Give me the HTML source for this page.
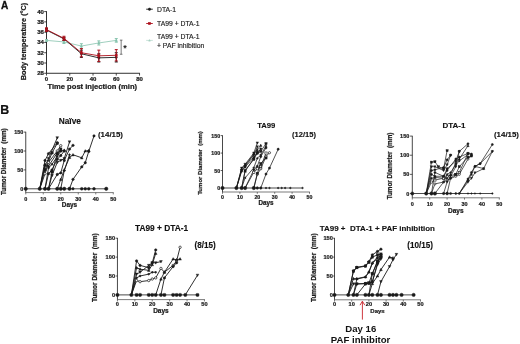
<!DOCTYPE html>
<html><head><meta charset="utf-8"><title>Figure</title>
<style>html,body{margin:0;padding:0;background:#fff;}body{width:520px;height:344px;overflow:hidden;font-family:"Liberation Sans",sans-serif;}svg{display:block;will-change:transform;transform:translateZ(0);}</style>
</head><body>
<svg width="520" height="344" viewBox="0 0 520 344">
<rect width="520" height="344" fill="#fff"/>
<text x="1.0" y="8.75" font-family="Liberation Sans, sans-serif" font-size="10.1" font-weight="bold" fill="#111" stroke="#111" stroke-width="0.3">A</text>
<text x="0.2" y="113.6" font-family="Liberation Sans, sans-serif" font-size="12.4" font-weight="bold" fill="#111" stroke="#111" stroke-width="0.2">B</text>
<path d="M46.5 11.2V73.27999999999999H139.94000000000003" fill="none" stroke="#1a1a1a" stroke-width="0.9"/>
<path d="M44.2 73.28H46.5" stroke="#1a1a1a" stroke-width="0.8"/>
<text x="43.9" y="75.18" font-family="Liberation Sans, sans-serif" font-size="6.0" font-weight="bold" text-anchor="end" fill="#1a1a1a" stroke="#1a1a1a" stroke-width="0.22">28</text>
<path d="M44.2 63.00H46.5" stroke="#1a1a1a" stroke-width="0.8"/>
<text x="43.9" y="64.90" font-family="Liberation Sans, sans-serif" font-size="6.0" font-weight="bold" text-anchor="end" fill="#1a1a1a" stroke="#1a1a1a" stroke-width="0.22">30</text>
<path d="M44.2 52.72H46.5" stroke="#1a1a1a" stroke-width="0.8"/>
<text x="43.9" y="54.62" font-family="Liberation Sans, sans-serif" font-size="6.0" font-weight="bold" text-anchor="end" fill="#1a1a1a" stroke="#1a1a1a" stroke-width="0.22">32</text>
<path d="M44.2 42.44H46.5" stroke="#1a1a1a" stroke-width="0.8"/>
<text x="43.9" y="44.34" font-family="Liberation Sans, sans-serif" font-size="6.0" font-weight="bold" text-anchor="end" fill="#1a1a1a" stroke="#1a1a1a" stroke-width="0.22">34</text>
<path d="M44.2 32.16H46.5" stroke="#1a1a1a" stroke-width="0.8"/>
<text x="43.9" y="34.06" font-family="Liberation Sans, sans-serif" font-size="6.0" font-weight="bold" text-anchor="end" fill="#1a1a1a" stroke="#1a1a1a" stroke-width="0.22">36</text>
<path d="M44.2 21.88H46.5" stroke="#1a1a1a" stroke-width="0.8"/>
<text x="43.9" y="23.78" font-family="Liberation Sans, sans-serif" font-size="6.0" font-weight="bold" text-anchor="end" fill="#1a1a1a" stroke="#1a1a1a" stroke-width="0.22">38</text>
<path d="M44.2 11.60H46.5" stroke="#1a1a1a" stroke-width="0.8"/>
<text x="43.9" y="13.50" font-family="Liberation Sans, sans-serif" font-size="6.0" font-weight="bold" text-anchor="end" fill="#1a1a1a" stroke="#1a1a1a" stroke-width="0.22">40</text>
<path d="M46.50 73.27999999999999V75.57999999999998" stroke="#1a1a1a" stroke-width="0.8"/>
<text x="46.50" y="80.88" font-family="Liberation Sans, sans-serif" font-size="6.0" font-weight="bold" text-anchor="middle" fill="#1a1a1a" stroke="#1a1a1a" stroke-width="0.22">0</text>
<path d="M69.76 73.27999999999999V75.57999999999998" stroke="#1a1a1a" stroke-width="0.8"/>
<text x="69.76" y="80.88" font-family="Liberation Sans, sans-serif" font-size="6.0" font-weight="bold" text-anchor="middle" fill="#1a1a1a" stroke="#1a1a1a" stroke-width="0.22">20</text>
<path d="M93.02 73.27999999999999V75.57999999999998" stroke="#1a1a1a" stroke-width="0.8"/>
<text x="93.02" y="80.88" font-family="Liberation Sans, sans-serif" font-size="6.0" font-weight="bold" text-anchor="middle" fill="#1a1a1a" stroke="#1a1a1a" stroke-width="0.22">40</text>
<path d="M116.28 73.27999999999999V75.57999999999998" stroke="#1a1a1a" stroke-width="0.8"/>
<text x="116.28" y="80.88" font-family="Liberation Sans, sans-serif" font-size="6.0" font-weight="bold" text-anchor="middle" fill="#1a1a1a" stroke="#1a1a1a" stroke-width="0.22">60</text>
<path d="M139.54 73.27999999999999V75.57999999999998" stroke="#1a1a1a" stroke-width="0.8"/>
<text x="139.54" y="80.88" font-family="Liberation Sans, sans-serif" font-size="6.0" font-weight="bold" text-anchor="middle" fill="#1a1a1a" stroke="#1a1a1a" stroke-width="0.22">80</text>
<text transform="translate(26.1,41.5) rotate(-90)" font-family="Liberation Sans, sans-serif" font-size="7.3" font-weight="bold" text-anchor="middle" fill="#1a1a1a" stroke="#1a1a1a" stroke-width="0.22">Body temperature (°C)</text>
<text x="92.3" y="89.2" font-family="Liberation Sans, sans-serif" font-size="7.6" font-weight="bold" text-anchor="middle" fill="#1a1a1a" stroke="#1a1a1a" stroke-width="0.22">Time post injection (min)</text>
<path d="M46.50 40.38L63.95 41.93L81.39 46.04L98.84 42.95L116.28 40.38" fill="none" stroke="#86c3ad" stroke-width="0.8"/>
<path d="M46.50 39.61V41.16M45.00 39.61h3M45.00 41.16h3" stroke="#86c3ad" stroke-width="1.0" fill="none"/>
<path d="M45.23 41.40L47.77 41.40L46.50 39.12Z" fill="#86c3ad" stroke="#86c3ad" stroke-width="0.4"/>
<path d="M63.95 40.38V43.47M62.45 40.38h3M62.45 43.47h3" stroke="#86c3ad" stroke-width="1.0" fill="none"/>
<path d="M62.68 42.94L65.21 42.94L63.95 40.66Z" fill="#86c3ad" stroke="#86c3ad" stroke-width="0.4"/>
<path d="M81.39 43.73V48.35M79.89 43.73h3M79.89 48.35h3" stroke="#86c3ad" stroke-width="1.0" fill="none"/>
<path d="M80.12 47.05L82.66 47.05L81.39 44.77Z" fill="#86c3ad" stroke="#86c3ad" stroke-width="0.4"/>
<path d="M98.84 40.90V45.01M97.34 40.90h3M97.34 45.01h3" stroke="#86c3ad" stroke-width="1.0" fill="none"/>
<path d="M97.57 43.97L100.10 43.97L98.84 41.69Z" fill="#86c3ad" stroke="#86c3ad" stroke-width="0.4"/>
<path d="M116.28 38.59V42.18M114.78 38.59h3M114.78 42.18h3" stroke="#86c3ad" stroke-width="1.0" fill="none"/>
<path d="M115.02 41.40L117.55 41.40L116.28 39.12Z" fill="#86c3ad" stroke="#86c3ad" stroke-width="0.4"/>
<path d="M46.50 30.10L63.95 38.84L81.39 53.75L98.84 57.86L116.28 57.35" fill="none" stroke="#1a1a1a" stroke-width="0.9"/>
<path d="M46.50 28.56V31.65M45.00 28.56h3M45.00 31.65h3" stroke="#1a1a1a" stroke-width="1.0" fill="none"/>
<circle cx="46.50" cy="30.10" r="1.1" fill="#1a1a1a" stroke="#1a1a1a" stroke-width="0.5"/>
<path d="M63.95 37.30V40.38M62.45 37.30h3M62.45 40.38h3" stroke="#1a1a1a" stroke-width="1.0" fill="none"/>
<circle cx="63.95" cy="38.84" r="1.1" fill="#1a1a1a" stroke="#1a1a1a" stroke-width="0.5"/>
<path d="M81.39 50.15V57.35M79.89 50.15h3M79.89 57.35h3" stroke="#1a1a1a" stroke-width="1.0" fill="none"/>
<circle cx="81.39" cy="53.75" r="1.1" fill="#1a1a1a" stroke="#1a1a1a" stroke-width="0.5"/>
<path d="M98.84 53.75V61.97M97.34 53.75h3M97.34 61.97h3" stroke="#1a1a1a" stroke-width="1.0" fill="none"/>
<circle cx="98.84" cy="57.86" r="1.1" fill="#1a1a1a" stroke="#1a1a1a" stroke-width="0.5"/>
<path d="M116.28 52.72V61.97M114.78 52.72h3M114.78 61.97h3" stroke="#1a1a1a" stroke-width="1.0" fill="none"/>
<circle cx="116.28" cy="57.35" r="1.1" fill="#1a1a1a" stroke="#1a1a1a" stroke-width="0.5"/>
<path d="M46.50 29.59L63.95 38.33L81.39 52.72L98.84 55.80L116.28 55.29" fill="none" stroke="#ad111c" stroke-width="0.9"/>
<path d="M46.50 27.79V31.39M45.00 27.79h3M45.00 31.39h3" stroke="#ad111c" stroke-width="1.0" fill="none"/>
<rect x="45.40" y="28.49" width="2.2" height="2.2" fill="#ad111c" stroke="#ad111c" stroke-width="0.4"/>
<path d="M63.95 36.27V40.38M62.45 36.27h3M62.45 40.38h3" stroke="#ad111c" stroke-width="1.0" fill="none"/>
<rect x="62.84" y="37.23" width="2.2" height="2.2" fill="#ad111c" stroke="#ad111c" stroke-width="0.4"/>
<path d="M81.39 48.61V56.83M79.89 48.61h3M79.89 56.83h3" stroke="#ad111c" stroke-width="1.0" fill="none"/>
<rect x="80.29" y="51.62" width="2.2" height="2.2" fill="#ad111c" stroke="#ad111c" stroke-width="0.4"/>
<path d="M98.84 50.15V61.46M97.34 50.15h3M97.34 61.46h3" stroke="#ad111c" stroke-width="1.0" fill="none"/>
<rect x="97.74" y="54.70" width="2.2" height="2.2" fill="#ad111c" stroke="#ad111c" stroke-width="0.4"/>
<path d="M116.28 49.64V60.94M114.78 49.64h3M114.78 60.94h3" stroke="#ad111c" stroke-width="1.0" fill="none"/>
<rect x="115.18" y="54.19" width="2.2" height="2.2" fill="#ad111c" stroke="#ad111c" stroke-width="0.4"/>
<path d="M119.86 40.13h2.6M121.16 40.13V54.26M119.86 54.26h2.6" stroke="#444" stroke-width="0.7" fill="none"/>
<text x="123.16" y="51.04" font-family="Liberation Sans, sans-serif" font-size="9" font-weight="bold" fill="#1a1a1a">*</text>
<path d="M146.2 9.2H152.8" stroke="#1a1a1a" stroke-width="0.9"/>
<circle cx="149.50" cy="9.20" r="1.2" fill="#1a1a1a" stroke="#1a1a1a" stroke-width="0.5"/>
<text x="157" y="11.6" font-family="Liberation Sans, sans-serif" font-size="6.8" fill="#1a1a1a" stroke="#1a1a1a" stroke-width="0.14">DTA-1</text>
<path d="M146.2 23.5H152.8" stroke="#ad111c" stroke-width="0.9"/>
<rect x="148.30" y="22.30" width="2.4" height="2.4" fill="#ad111c" stroke="#ad111c" stroke-width="0.4"/>
<text x="157" y="25.9" font-family="Liberation Sans, sans-serif" font-size="6.8" fill="#1a1a1a" stroke="#1a1a1a" stroke-width="0.14">TA99 + DTA-1</text>
<path d="M146.2 40.4H152.8" stroke="#a3cfbf" stroke-width="0.6"/>
<path d="M148.58 41.14L150.42 41.14L149.50 39.48Z" fill="#a3cfbf" stroke="#a3cfbf" stroke-width="0.4"/>
<text x="157" y="38.8" font-family="Liberation Sans, sans-serif" font-size="6.8" fill="#1a1a1a" stroke="#1a1a1a" stroke-width="0.14">TA99 + DTA-1</text>
<text x="157" y="47.5" font-family="Liberation Sans, sans-serif" font-size="6.8" fill="#1a1a1a" stroke="#1a1a1a" stroke-width="0.14">+ PAF inhibition</text>
<path d="M25.75 131.80V192.6" stroke="#1a1a1a" stroke-width="0.8" fill="none"/>
<path d="M25.35 192.6H113.65" stroke="#444" stroke-width="0.7" fill="none"/>
<path d="M23.85 188.80H25.75" stroke="#1a1a1a" stroke-width="0.7"/>
<text x="23.35" y="190.80" font-family="Liberation Sans, sans-serif" font-size="5.50" font-weight="bold" text-anchor="end" fill="#1a1a1a" stroke="#1a1a1a" stroke-width="0.2">0</text>
<path d="M23.85 169.90H25.75" stroke="#1a1a1a" stroke-width="0.7"/>
<text x="23.35" y="171.90" font-family="Liberation Sans, sans-serif" font-size="5.50" font-weight="bold" text-anchor="end" fill="#1a1a1a" stroke="#1a1a1a" stroke-width="0.2">50</text>
<path d="M23.85 151.00H25.75" stroke="#1a1a1a" stroke-width="0.7"/>
<text x="23.35" y="153.00" font-family="Liberation Sans, sans-serif" font-size="5.50" font-weight="bold" text-anchor="end" fill="#1a1a1a" stroke="#1a1a1a" stroke-width="0.2">100</text>
<path d="M23.85 132.10H25.75" stroke="#1a1a1a" stroke-width="0.7"/>
<text x="23.35" y="134.10" font-family="Liberation Sans, sans-serif" font-size="5.50" font-weight="bold" text-anchor="end" fill="#1a1a1a" stroke="#1a1a1a" stroke-width="0.2">150</text>
<path d="M25.75 192.6v1.8" stroke="#444" stroke-width="0.7"/>
<text x="25.75" y="200.50" font-family="Liberation Sans, sans-serif" font-size="5.50" font-weight="bold" text-anchor="middle" fill="#1a1a1a" stroke="#1a1a1a" stroke-width="0.2">0</text>
<path d="M43.25 192.6v1.8" stroke="#444" stroke-width="0.7"/>
<text x="43.25" y="200.50" font-family="Liberation Sans, sans-serif" font-size="5.50" font-weight="bold" text-anchor="middle" fill="#1a1a1a" stroke="#1a1a1a" stroke-width="0.2">10</text>
<path d="M60.75 192.6v1.8" stroke="#444" stroke-width="0.7"/>
<text x="60.75" y="200.50" font-family="Liberation Sans, sans-serif" font-size="5.50" font-weight="bold" text-anchor="middle" fill="#1a1a1a" stroke="#1a1a1a" stroke-width="0.2">20</text>
<path d="M78.25 192.6v1.8" stroke="#444" stroke-width="0.7"/>
<text x="78.25" y="200.50" font-family="Liberation Sans, sans-serif" font-size="5.50" font-weight="bold" text-anchor="middle" fill="#1a1a1a" stroke="#1a1a1a" stroke-width="0.2">30</text>
<path d="M95.75 192.6v1.8" stroke="#444" stroke-width="0.7"/>
<text x="95.75" y="200.50" font-family="Liberation Sans, sans-serif" font-size="5.50" font-weight="bold" text-anchor="middle" fill="#1a1a1a" stroke="#1a1a1a" stroke-width="0.2">40</text>
<path d="M113.25 192.6v1.8" stroke="#444" stroke-width="0.7"/>
<text x="113.25" y="200.50" font-family="Liberation Sans, sans-serif" font-size="5.50" font-weight="bold" text-anchor="middle" fill="#1a1a1a" stroke="#1a1a1a" stroke-width="0.2">50</text>
<text x="69.50" y="207.20" font-family="Liberation Sans, sans-serif" font-size="6.40" font-weight="bold" text-anchor="middle" fill="#1a1a1a" stroke="#1a1a1a" stroke-width="0.22">Days</text>
<text transform="translate(6.4,161.65) rotate(-90)" font-family="Liberation Sans, sans-serif" font-size="6.30" font-weight="bold" text-anchor="middle" fill="#1a1a1a" stroke="#1a1a1a" stroke-width="0.22" style="white-space:pre">Tumor Diameter  (mm)</text>
<text x="69.85" y="123.8" font-family="Liberation Sans, sans-serif" font-size="8.3" font-weight="bold" text-anchor="middle" fill="#111" stroke="#1a1a1a" stroke-width="0.14" style="white-space:pre">Naïve</text>
<text x="110.5" y="137.3" font-family="Liberation Sans, sans-serif" font-size="7.90" font-weight="bold" text-anchor="middle" fill="#111" stroke="#1a1a1a" stroke-width="0.14">(14/15)</text>
<path d="M25.75 188.80H106.25" stroke="#1a1a1a" stroke-width="0.8"/>
<circle cx="25.75" cy="188.80" r="1.7" fill="#1a1a1a" stroke="#1a1a1a" stroke-width="0.5"/>
<circle cx="39.75" cy="188.80" r="1.7" fill="#1a1a1a" stroke="#1a1a1a" stroke-width="0.5"/>
<circle cx="45.00" cy="188.80" r="1.7" fill="#1a1a1a" stroke="#1a1a1a" stroke-width="0.5"/>
<circle cx="48.50" cy="188.80" r="1.7" fill="#1a1a1a" stroke="#1a1a1a" stroke-width="0.5"/>
<circle cx="57.25" cy="188.80" r="1.7" fill="#1a1a1a" stroke="#1a1a1a" stroke-width="0.5"/>
<circle cx="60.75" cy="188.80" r="1.7" fill="#1a1a1a" stroke="#1a1a1a" stroke-width="0.5"/>
<circle cx="64.25" cy="188.80" r="1.7" fill="#1a1a1a" stroke="#1a1a1a" stroke-width="0.5"/>
<circle cx="69.50" cy="188.80" r="1.7" fill="#1a1a1a" stroke="#1a1a1a" stroke-width="0.5"/>
<circle cx="73.00" cy="188.80" r="1.2" fill="#1a1a1a" stroke="#1a1a1a" stroke-width="0.5"/>
<circle cx="81.75" cy="188.80" r="1.4" fill="#1a1a1a" stroke="#1a1a1a" stroke-width="0.5"/>
<circle cx="85.25" cy="188.80" r="1.4" fill="#1a1a1a" stroke="#1a1a1a" stroke-width="0.5"/>
<circle cx="88.75" cy="188.80" r="1.4" fill="#1a1a1a" stroke="#1a1a1a" stroke-width="0.5"/>
<circle cx="94.00" cy="188.80" r="1.4" fill="#1a1a1a" stroke="#1a1a1a" stroke-width="0.5"/>
<circle cx="106.25" cy="188.80" r="1.7" fill="#1a1a1a" stroke="#1a1a1a" stroke-width="0.5"/>
<path d="M39.75 188.80L45.00 160.45L48.50 153.65L57.25 142.68" fill="none" stroke="#1a1a1a" stroke-width="0.9" stroke-linejoin="round"/>
<circle cx="45.00" cy="160.45" r="1.2" fill="#1a1a1a" stroke="#1a1a1a" stroke-width="0.5"/>
<circle cx="48.50" cy="153.65" r="1.2" fill="#1a1a1a" stroke="#1a1a1a" stroke-width="0.5"/>
<circle cx="57.25" cy="142.68" r="1.2" fill="#1a1a1a" stroke="#1a1a1a" stroke-width="0.5"/>
<path d="M39.75 188.80L45.00 166.12L48.50 158.56L57.25 137.77" fill="none" stroke="#1a1a1a" stroke-width="0.9" stroke-linejoin="round"/>
<path d="M43.62 165.02L46.38 165.02L45.00 167.50Z" fill="#1a1a1a" stroke="#1a1a1a" stroke-width="0.4"/>
<path d="M47.12 157.46L49.88 157.46L48.50 159.94Z" fill="#1a1a1a" stroke="#1a1a1a" stroke-width="0.4"/>
<path d="M55.87 136.67L58.63 136.67L57.25 139.15Z" fill="#1a1a1a" stroke="#1a1a1a" stroke-width="0.4"/>
<path d="M39.75 188.80L45.00 169.90L48.50 161.58L52.00 152.89L57.25 143.44" fill="none" stroke="#1a1a1a" stroke-width="0.9" stroke-linejoin="round"/>
<rect x="43.80" y="168.70" width="2.4" height="2.4" fill="#1a1a1a" stroke="#1a1a1a" stroke-width="0.4"/>
<rect x="47.30" y="160.38" width="2.4" height="2.4" fill="#1a1a1a" stroke="#1a1a1a" stroke-width="0.4"/>
<rect x="50.80" y="151.69" width="2.4" height="2.4" fill="#1a1a1a" stroke="#1a1a1a" stroke-width="0.4"/>
<rect x="56.05" y="142.24" width="2.4" height="2.4" fill="#1a1a1a" stroke="#1a1a1a" stroke-width="0.4"/>
<path d="M39.75 188.80L45.00 173.68L48.50 162.34L57.25 151.00L60.75 145.71" fill="none" stroke="#1a1a1a" stroke-width="0.9" stroke-linejoin="round"/>
<circle cx="45.00" cy="173.68" r="1.2" fill="#fff" stroke="#1a1a1a" stroke-width="0.7"/>
<circle cx="48.50" cy="162.34" r="1.2" fill="#fff" stroke="#1a1a1a" stroke-width="0.7"/>
<circle cx="57.25" cy="151.00" r="1.2" fill="#fff" stroke="#1a1a1a" stroke-width="0.7"/>
<circle cx="60.75" cy="145.71" r="1.2" fill="#fff" stroke="#1a1a1a" stroke-width="0.7"/>
<path d="M39.75 188.80L45.00 164.23L48.50 166.12L57.25 152.89L60.75 151.00L64.25 150.24" fill="none" stroke="#1a1a1a" stroke-width="0.9" stroke-linejoin="round"/>
<path d="M43.62 165.33L46.38 165.33L45.00 162.85Z" fill="#1a1a1a" stroke="#1a1a1a" stroke-width="0.4"/>
<path d="M47.12 167.22L49.88 167.22L48.50 164.74Z" fill="#1a1a1a" stroke="#1a1a1a" stroke-width="0.4"/>
<path d="M55.87 153.99L58.63 153.99L57.25 151.51Z" fill="#1a1a1a" stroke="#1a1a1a" stroke-width="0.4"/>
<path d="M59.37 152.10L62.13 152.10L60.75 149.62Z" fill="#1a1a1a" stroke="#1a1a1a" stroke-width="0.4"/>
<path d="M62.87 151.35L65.63 151.35L64.25 148.86Z" fill="#1a1a1a" stroke="#1a1a1a" stroke-width="0.4"/>
<path d="M45.00 188.80L48.50 168.01L52.00 164.23L57.25 156.67L60.75 151.00" fill="none" stroke="#1a1a1a" stroke-width="0.9" stroke-linejoin="round"/>
<path d="M48.50 166.81L49.70 168.01L48.50 169.21L47.30 168.01Z" fill="#1a1a1a" stroke="#1a1a1a" stroke-width="0.4"/>
<path d="M52.00 163.03L53.20 164.23L52.00 165.43L50.80 164.23Z" fill="#1a1a1a" stroke="#1a1a1a" stroke-width="0.4"/>
<path d="M57.25 155.47L58.45 156.67L57.25 157.87L56.05 156.67Z" fill="#1a1a1a" stroke="#1a1a1a" stroke-width="0.4"/>
<path d="M60.75 149.80L61.95 151.00L60.75 152.20L59.55 151.00Z" fill="#1a1a1a" stroke="#1a1a1a" stroke-width="0.4"/>
<path d="M45.00 188.80L48.50 173.68L52.00 169.90L57.25 159.32L60.75 155.54L64.25 151.00" fill="none" stroke="#1a1a1a" stroke-width="0.9" stroke-linejoin="round"/>
<circle cx="48.50" cy="173.68" r="1.2" fill="#1a1a1a" stroke="#1a1a1a" stroke-width="0.5"/>
<circle cx="52.00" cy="169.90" r="1.2" fill="#1a1a1a" stroke="#1a1a1a" stroke-width="0.5"/>
<circle cx="57.25" cy="159.32" r="1.2" fill="#1a1a1a" stroke="#1a1a1a" stroke-width="0.5"/>
<circle cx="60.75" cy="155.54" r="1.2" fill="#1a1a1a" stroke="#1a1a1a" stroke-width="0.5"/>
<circle cx="64.25" cy="151.00" r="1.2" fill="#1a1a1a" stroke="#1a1a1a" stroke-width="0.5"/>
<path d="M48.50 188.80L52.00 175.57L57.25 162.34L60.75 160.45L64.25 158.56L69.50 141.93" fill="none" stroke="#1a1a1a" stroke-width="0.9" stroke-linejoin="round"/>
<path d="M50.62 174.47L53.38 174.47L52.00 176.95Z" fill="#1a1a1a" stroke="#1a1a1a" stroke-width="0.4"/>
<path d="M55.87 161.24L58.63 161.24L57.25 163.72Z" fill="#1a1a1a" stroke="#1a1a1a" stroke-width="0.4"/>
<path d="M59.37 159.35L62.13 159.35L60.75 161.83Z" fill="#1a1a1a" stroke="#1a1a1a" stroke-width="0.4"/>
<path d="M62.87 157.46L65.63 157.46L64.25 159.94Z" fill="#1a1a1a" stroke="#1a1a1a" stroke-width="0.4"/>
<path d="M68.12 140.82L70.88 140.82L69.50 143.31Z" fill="#1a1a1a" stroke="#1a1a1a" stroke-width="0.4"/>
<path d="M48.50 188.80L52.00 171.79L57.25 154.02L60.75 149.11" fill="none" stroke="#1a1a1a" stroke-width="0.9" stroke-linejoin="round"/>
<rect x="50.80" y="170.59" width="2.4" height="2.4" fill="#1a1a1a" stroke="#1a1a1a" stroke-width="0.4"/>
<rect x="56.05" y="152.82" width="2.4" height="2.4" fill="#1a1a1a" stroke="#1a1a1a" stroke-width="0.4"/>
<rect x="59.55" y="147.91" width="2.4" height="2.4" fill="#1a1a1a" stroke="#1a1a1a" stroke-width="0.4"/>
<path d="M48.50 188.80L57.25 174.44L60.75 172.92L64.25 160.45L69.50 149.11L73.00 145.33" fill="none" stroke="#1a1a1a" stroke-width="0.9" stroke-linejoin="round"/>
<circle cx="57.25" cy="174.44" r="1.2" fill="#1a1a1a" stroke="#1a1a1a" stroke-width="0.5"/>
<circle cx="60.75" cy="172.92" r="1.2" fill="#1a1a1a" stroke="#1a1a1a" stroke-width="0.5"/>
<circle cx="64.25" cy="160.45" r="1.2" fill="#1a1a1a" stroke="#1a1a1a" stroke-width="0.5"/>
<circle cx="69.50" cy="149.11" r="1.2" fill="#1a1a1a" stroke="#1a1a1a" stroke-width="0.5"/>
<circle cx="73.00" cy="145.33" r="1.2" fill="#1a1a1a" stroke="#1a1a1a" stroke-width="0.5"/>
<path d="M57.25 188.80L60.75 179.35L64.25 169.90L69.50 157.43L73.00 154.78L81.75 157.80L85.25 151.00L88.75 150.62" fill="none" stroke="#1a1a1a" stroke-width="0.9" stroke-linejoin="round"/>
<path d="M59.37 180.45L62.13 180.45L60.75 177.97Z" fill="#1a1a1a" stroke="#1a1a1a" stroke-width="0.4"/>
<path d="M62.87 171.00L65.63 171.00L64.25 168.52Z" fill="#1a1a1a" stroke="#1a1a1a" stroke-width="0.4"/>
<path d="M68.12 158.53L70.88 158.53L69.50 156.05Z" fill="#1a1a1a" stroke="#1a1a1a" stroke-width="0.4"/>
<path d="M71.62 155.88L74.38 155.88L73.00 153.40Z" fill="#1a1a1a" stroke="#1a1a1a" stroke-width="0.4"/>
<path d="M80.37 158.91L83.13 158.91L81.75 156.42Z" fill="#1a1a1a" stroke="#1a1a1a" stroke-width="0.4"/>
<path d="M83.87 152.10L86.63 152.10L85.25 149.62Z" fill="#1a1a1a" stroke="#1a1a1a" stroke-width="0.4"/>
<path d="M87.37 151.73L90.13 151.73L88.75 149.24Z" fill="#1a1a1a" stroke="#1a1a1a" stroke-width="0.4"/>
<path d="M60.75 188.80L64.25 170.66L69.50 154.78" fill="none" stroke="#1a1a1a" stroke-width="0.9" stroke-linejoin="round"/>
<path d="M64.25 169.46L65.45 170.66L64.25 171.86L63.05 170.66Z" fill="#1a1a1a" stroke="#1a1a1a" stroke-width="0.4"/>
<path d="M69.50 153.58L70.70 154.78L69.50 155.98L68.30 154.78Z" fill="#1a1a1a" stroke="#1a1a1a" stroke-width="0.4"/>
<path d="M69.50 188.80L73.00 179.35L81.75 166.88L85.25 162.72L88.75 151.38L94.00 135.88" fill="none" stroke="#1a1a1a" stroke-width="0.9" stroke-linejoin="round"/>
<circle cx="73.00" cy="179.35" r="1.2" fill="#1a1a1a" stroke="#1a1a1a" stroke-width="0.5"/>
<circle cx="81.75" cy="166.88" r="1.2" fill="#1a1a1a" stroke="#1a1a1a" stroke-width="0.5"/>
<circle cx="85.25" cy="162.72" r="1.2" fill="#1a1a1a" stroke="#1a1a1a" stroke-width="0.5"/>
<circle cx="88.75" cy="151.38" r="1.2" fill="#1a1a1a" stroke="#1a1a1a" stroke-width="0.5"/>
<circle cx="94.00" cy="135.88" r="1.2" fill="#1a1a1a" stroke="#1a1a1a" stroke-width="0.5"/>
<path d="M222.5 135.30V192.0" stroke="#1a1a1a" stroke-width="0.8" fill="none"/>
<path d="M222.1 192.0H309.90" stroke="#444" stroke-width="0.7" fill="none"/>
<path d="M220.6 188.00H222.5" stroke="#1a1a1a" stroke-width="0.7"/>
<text x="220.1" y="190.00" font-family="Liberation Sans, sans-serif" font-size="5.25" font-weight="bold" text-anchor="end" fill="#1a1a1a" stroke="#1a1a1a" stroke-width="0.2">0</text>
<path d="M220.6 170.53H222.5" stroke="#1a1a1a" stroke-width="0.7"/>
<text x="220.1" y="172.53" font-family="Liberation Sans, sans-serif" font-size="5.25" font-weight="bold" text-anchor="end" fill="#1a1a1a" stroke="#1a1a1a" stroke-width="0.2">50</text>
<path d="M220.6 153.07H222.5" stroke="#1a1a1a" stroke-width="0.7"/>
<text x="220.1" y="155.07" font-family="Liberation Sans, sans-serif" font-size="5.25" font-weight="bold" text-anchor="end" fill="#1a1a1a" stroke="#1a1a1a" stroke-width="0.2">100</text>
<path d="M220.6 135.60H222.5" stroke="#1a1a1a" stroke-width="0.7"/>
<text x="220.1" y="137.60" font-family="Liberation Sans, sans-serif" font-size="5.25" font-weight="bold" text-anchor="end" fill="#1a1a1a" stroke="#1a1a1a" stroke-width="0.2">150</text>
<path d="M222.50 192.0v1.8" stroke="#444" stroke-width="0.7"/>
<text x="222.50" y="198.80" font-family="Liberation Sans, sans-serif" font-size="5.25" font-weight="bold" text-anchor="middle" fill="#1a1a1a" stroke="#1a1a1a" stroke-width="0.2">0</text>
<path d="M239.90 192.0v1.8" stroke="#444" stroke-width="0.7"/>
<text x="239.90" y="198.80" font-family="Liberation Sans, sans-serif" font-size="5.25" font-weight="bold" text-anchor="middle" fill="#1a1a1a" stroke="#1a1a1a" stroke-width="0.2">10</text>
<path d="M257.30 192.0v1.8" stroke="#444" stroke-width="0.7"/>
<text x="257.30" y="198.80" font-family="Liberation Sans, sans-serif" font-size="5.25" font-weight="bold" text-anchor="middle" fill="#1a1a1a" stroke="#1a1a1a" stroke-width="0.2">20</text>
<path d="M274.70 192.0v1.8" stroke="#444" stroke-width="0.7"/>
<text x="274.70" y="198.80" font-family="Liberation Sans, sans-serif" font-size="5.25" font-weight="bold" text-anchor="middle" fill="#1a1a1a" stroke="#1a1a1a" stroke-width="0.2">30</text>
<path d="M292.10 192.0v1.8" stroke="#444" stroke-width="0.7"/>
<text x="292.10" y="198.80" font-family="Liberation Sans, sans-serif" font-size="5.25" font-weight="bold" text-anchor="middle" fill="#1a1a1a" stroke="#1a1a1a" stroke-width="0.2">40</text>
<path d="M309.50 192.0v1.8" stroke="#444" stroke-width="0.7"/>
<text x="309.50" y="198.80" font-family="Liberation Sans, sans-serif" font-size="5.25" font-weight="bold" text-anchor="middle" fill="#1a1a1a" stroke="#1a1a1a" stroke-width="0.2">50</text>
<text x="266.00" y="205.10" font-family="Liberation Sans, sans-serif" font-size="6.30" font-weight="bold" text-anchor="middle" fill="#1a1a1a" stroke="#1a1a1a" stroke-width="0.22">Days</text>
<text transform="translate(202.2,163.00) rotate(-90)" font-family="Liberation Sans, sans-serif" font-size="6.02" font-weight="bold" text-anchor="middle" fill="#1a1a1a" stroke="#1a1a1a" stroke-width="0.22" style="white-space:pre">Tumor Diameter  (mm)</text>
<text x="266.25" y="128.0" font-family="Liberation Sans, sans-serif" font-size="7.7" font-weight="bold" text-anchor="middle" fill="#111" stroke="#1a1a1a" stroke-width="0.14" style="white-space:pre">TA99</text>
<text x="304" y="137.0" font-family="Liberation Sans, sans-serif" font-size="7.54" font-weight="bold" text-anchor="middle" fill="#111" stroke="#1a1a1a" stroke-width="0.14">(12/15)</text>
<path d="M222.50 188.00H302.54" stroke="#1a1a1a" stroke-width="0.8"/>
<circle cx="222.50" cy="188.00" r="1.7" fill="#1a1a1a" stroke="#1a1a1a" stroke-width="0.5"/>
<circle cx="236.42" cy="188.00" r="1.7" fill="#1a1a1a" stroke="#1a1a1a" stroke-width="0.5"/>
<circle cx="241.64" cy="188.00" r="1.7" fill="#1a1a1a" stroke="#1a1a1a" stroke-width="0.5"/>
<circle cx="245.12" cy="188.00" r="1.7" fill="#1a1a1a" stroke="#1a1a1a" stroke-width="0.5"/>
<circle cx="253.82" cy="188.00" r="1.7" fill="#1a1a1a" stroke="#1a1a1a" stroke-width="0.5"/>
<circle cx="257.30" cy="188.00" r="1.3" fill="#1a1a1a" stroke="#1a1a1a" stroke-width="0.5"/>
<circle cx="260.78" cy="188.00" r="1.2" fill="#1a1a1a" stroke="#1a1a1a" stroke-width="0.5"/>
<circle cx="266.00" cy="188.00" r="0.8" fill="#1a1a1a" stroke="#1a1a1a" stroke-width="0.5"/>
<circle cx="269.48" cy="188.00" r="0.8" fill="#1a1a1a" stroke="#1a1a1a" stroke-width="0.5"/>
<circle cx="278.18" cy="188.00" r="0.8" fill="#1a1a1a" stroke="#1a1a1a" stroke-width="0.5"/>
<circle cx="281.66" cy="188.00" r="0.8" fill="#1a1a1a" stroke="#1a1a1a" stroke-width="0.5"/>
<circle cx="285.14" cy="188.00" r="0.8" fill="#1a1a1a" stroke="#1a1a1a" stroke-width="0.5"/>
<circle cx="290.36" cy="188.00" r="0.8" fill="#1a1a1a" stroke="#1a1a1a" stroke-width="0.5"/>
<circle cx="302.54" cy="188.00" r="0.8" fill="#1a1a1a" stroke="#1a1a1a" stroke-width="0.5"/>
<path d="M236.42 188.00L241.64 168.09L245.12 164.25L253.82 153.07L257.30 142.94" fill="none" stroke="#1a1a1a" stroke-width="0.75" stroke-linejoin="round"/>
<path d="M240.38 167.08L242.90 167.08L241.64 169.35Z" fill="#1a1a1a" stroke="#1a1a1a" stroke-width="0.4"/>
<path d="M243.86 163.23L246.38 163.23L245.12 165.51Z" fill="#1a1a1a" stroke="#1a1a1a" stroke-width="0.4"/>
<path d="M252.56 152.05L255.08 152.05L253.82 154.33Z" fill="#1a1a1a" stroke="#1a1a1a" stroke-width="0.4"/>
<path d="M256.04 141.92L258.56 141.92L257.30 144.20Z" fill="#1a1a1a" stroke="#1a1a1a" stroke-width="0.4"/>
<path d="M236.42 188.00L241.64 168.79L245.12 165.29L253.82 154.11L257.30 149.57L260.78 145.38" fill="none" stroke="#1a1a1a" stroke-width="0.75" stroke-linejoin="round"/>
<path d="M240.38 169.80L242.90 169.80L241.64 167.52Z" fill="#1a1a1a" stroke="#1a1a1a" stroke-width="0.4"/>
<path d="M243.86 166.31L246.38 166.31L245.12 164.03Z" fill="#1a1a1a" stroke="#1a1a1a" stroke-width="0.4"/>
<path d="M252.56 155.13L255.08 155.13L253.82 152.85Z" fill="#1a1a1a" stroke="#1a1a1a" stroke-width="0.4"/>
<path d="M256.04 150.59L258.56 150.59L257.30 148.31Z" fill="#1a1a1a" stroke="#1a1a1a" stroke-width="0.4"/>
<path d="M259.51 146.39L262.04 146.39L260.78 144.12Z" fill="#1a1a1a" stroke="#1a1a1a" stroke-width="0.4"/>
<path d="M236.42 188.00L241.64 171.23L245.12 167.04L253.82 157.26L257.30 153.07L260.78 148.87" fill="none" stroke="#1a1a1a" stroke-width="0.75" stroke-linejoin="round"/>
<circle cx="241.64" cy="171.23" r="1.1" fill="#1a1a1a" stroke="#1a1a1a" stroke-width="0.5"/>
<circle cx="245.12" cy="167.04" r="1.1" fill="#1a1a1a" stroke="#1a1a1a" stroke-width="0.5"/>
<circle cx="253.82" cy="157.26" r="1.1" fill="#1a1a1a" stroke="#1a1a1a" stroke-width="0.5"/>
<circle cx="257.30" cy="153.07" r="1.1" fill="#1a1a1a" stroke="#1a1a1a" stroke-width="0.5"/>
<circle cx="260.78" cy="148.87" r="1.1" fill="#1a1a1a" stroke="#1a1a1a" stroke-width="0.5"/>
<path d="M236.42 188.00L241.64 170.53L245.12 166.34L253.82 154.81L257.30 146.78" fill="none" stroke="#1a1a1a" stroke-width="0.75" stroke-linejoin="round"/>
<path d="M240.38 169.52L242.90 169.52L241.64 171.80Z" fill="#1a1a1a" stroke="#1a1a1a" stroke-width="0.4"/>
<path d="M243.86 165.33L246.38 165.33L245.12 167.61Z" fill="#1a1a1a" stroke="#1a1a1a" stroke-width="0.4"/>
<path d="M252.56 153.80L255.08 153.80L253.82 156.08Z" fill="#1a1a1a" stroke="#1a1a1a" stroke-width="0.4"/>
<path d="M256.04 145.77L258.56 145.77L257.30 148.04Z" fill="#1a1a1a" stroke="#1a1a1a" stroke-width="0.4"/>
<path d="M241.64 188.00L245.12 170.53L253.82 159.35L257.30 153.07L260.78 151.32L266.00 143.63" fill="none" stroke="#1a1a1a" stroke-width="0.75" stroke-linejoin="round"/>
<rect x="244.02" y="169.43" width="2.2" height="2.2" fill="#1a1a1a" stroke="#1a1a1a" stroke-width="0.4"/>
<rect x="252.72" y="158.25" width="2.2" height="2.2" fill="#1a1a1a" stroke="#1a1a1a" stroke-width="0.4"/>
<rect x="256.20" y="151.97" width="2.2" height="2.2" fill="#1a1a1a" stroke="#1a1a1a" stroke-width="0.4"/>
<rect x="259.68" y="150.22" width="2.2" height="2.2" fill="#1a1a1a" stroke="#1a1a1a" stroke-width="0.4"/>
<rect x="264.90" y="142.53" width="2.2" height="2.2" fill="#1a1a1a" stroke="#1a1a1a" stroke-width="0.4"/>
<path d="M241.64 188.00L245.12 177.87L253.82 167.74L257.30 158.31L260.78 154.81L266.00 146.08" fill="none" stroke="#1a1a1a" stroke-width="0.75" stroke-linejoin="round"/>
<path d="M245.12 176.77L246.22 177.87L245.12 178.97L244.02 177.87Z" fill="#1a1a1a" stroke="#1a1a1a" stroke-width="0.4"/>
<path d="M253.82 166.64L254.92 167.74L253.82 168.84L252.72 167.74Z" fill="#1a1a1a" stroke="#1a1a1a" stroke-width="0.4"/>
<path d="M257.30 157.21L258.40 158.31L257.30 159.41L256.20 158.31Z" fill="#1a1a1a" stroke="#1a1a1a" stroke-width="0.4"/>
<path d="M260.78 153.71L261.88 154.81L260.78 155.91L259.68 154.81Z" fill="#1a1a1a" stroke="#1a1a1a" stroke-width="0.4"/>
<path d="M266.00 144.98L267.10 146.08L266.00 147.18L264.90 146.08Z" fill="#1a1a1a" stroke="#1a1a1a" stroke-width="0.4"/>
<path d="M245.12 188.00L253.82 169.83L257.30 166.34L260.78 156.56L266.00 147.83" fill="none" stroke="#1a1a1a" stroke-width="0.75" stroke-linejoin="round"/>
<circle cx="253.82" cy="169.83" r="1.1" fill="#1a1a1a" stroke="#1a1a1a" stroke-width="0.5"/>
<circle cx="257.30" cy="166.34" r="1.1" fill="#1a1a1a" stroke="#1a1a1a" stroke-width="0.5"/>
<circle cx="260.78" cy="156.56" r="1.1" fill="#1a1a1a" stroke="#1a1a1a" stroke-width="0.5"/>
<circle cx="266.00" cy="147.83" r="1.1" fill="#1a1a1a" stroke="#1a1a1a" stroke-width="0.5"/>
<path d="M245.12 188.00L253.82 172.28L257.30 168.79L260.78 166.69L266.00 153.07" fill="none" stroke="#1a1a1a" stroke-width="0.75" stroke-linejoin="round"/>
<rect x="252.72" y="171.18" width="2.2" height="2.2" fill="#fff" stroke="#1a1a1a" stroke-width="0.6"/>
<rect x="256.20" y="167.69" width="2.2" height="2.2" fill="#fff" stroke="#1a1a1a" stroke-width="0.6"/>
<rect x="259.68" y="165.59" width="2.2" height="2.2" fill="#fff" stroke="#1a1a1a" stroke-width="0.6"/>
<rect x="264.90" y="151.97" width="2.2" height="2.2" fill="#fff" stroke="#1a1a1a" stroke-width="0.6"/>
<path d="M253.82 188.00L257.30 174.38L260.78 168.79L266.00 156.56L269.48 152.72" fill="none" stroke="#1a1a1a" stroke-width="0.75" stroke-linejoin="round"/>
<circle cx="257.30" cy="174.38" r="1.1" fill="#fff" stroke="#1a1a1a" stroke-width="0.7"/>
<circle cx="260.78" cy="168.79" r="1.1" fill="#fff" stroke="#1a1a1a" stroke-width="0.7"/>
<circle cx="266.00" cy="156.56" r="1.1" fill="#fff" stroke="#1a1a1a" stroke-width="0.7"/>
<circle cx="269.48" cy="152.72" r="1.1" fill="#fff" stroke="#1a1a1a" stroke-width="0.7"/>
<path d="M253.82 188.00L257.30 173.33L260.78 163.55L266.00 157.96" fill="none" stroke="#1a1a1a" stroke-width="0.75" stroke-linejoin="round"/>
<rect x="256.20" y="172.23" width="2.2" height="2.2" fill="#1a1a1a" stroke="#1a1a1a" stroke-width="0.4"/>
<rect x="259.68" y="162.45" width="2.2" height="2.2" fill="#1a1a1a" stroke="#1a1a1a" stroke-width="0.4"/>
<rect x="264.90" y="156.86" width="2.2" height="2.2" fill="#1a1a1a" stroke="#1a1a1a" stroke-width="0.4"/>
<path d="M241.64 188.00L245.12 171.23L253.82 158.31L257.30 151.32" fill="none" stroke="#1a1a1a" stroke-width="0.75" stroke-linejoin="round"/>
<path d="M243.86 172.24L246.38 172.24L245.12 169.97Z" fill="#1a1a1a" stroke="#1a1a1a" stroke-width="0.4"/>
<path d="M252.56 159.32L255.08 159.32L253.82 157.04Z" fill="#1a1a1a" stroke="#1a1a1a" stroke-width="0.4"/>
<path d="M256.04 152.33L258.56 152.33L257.30 150.06Z" fill="#1a1a1a" stroke="#1a1a1a" stroke-width="0.4"/>
<path d="M260.78 188.00L266.00 174.03L269.48 168.09L278.18 149.22" fill="none" stroke="#1a1a1a" stroke-width="0.75" stroke-linejoin="round"/>
<circle cx="266.00" cy="174.03" r="1.1" fill="#1a1a1a" stroke="#1a1a1a" stroke-width="0.5"/>
<circle cx="269.48" cy="168.09" r="1.1" fill="#1a1a1a" stroke="#1a1a1a" stroke-width="0.5"/>
<circle cx="278.18" cy="149.22" r="1.1" fill="#1a1a1a" stroke="#1a1a1a" stroke-width="0.5"/>
<path d="M412.3 135.80V197.8" stroke="#1a1a1a" stroke-width="0.8" fill="none"/>
<path d="M411.90000000000003 197.8H499.70" stroke="#444" stroke-width="0.7" fill="none"/>
<path d="M409.90000000000003 193.50H412.3" stroke="#1a1a1a" stroke-width="0.7"/>
<text x="409.3" y="195.50" font-family="Liberation Sans, sans-serif" font-size="5.50" font-weight="bold" text-anchor="end" fill="#1a1a1a" stroke="#1a1a1a" stroke-width="0.2">0</text>
<path d="M409.90000000000003 174.37H412.3" stroke="#1a1a1a" stroke-width="0.7"/>
<text x="409.3" y="176.37" font-family="Liberation Sans, sans-serif" font-size="5.50" font-weight="bold" text-anchor="end" fill="#1a1a1a" stroke="#1a1a1a" stroke-width="0.2">50</text>
<path d="M409.90000000000003 155.23H412.3" stroke="#1a1a1a" stroke-width="0.7"/>
<text x="409.3" y="157.23" font-family="Liberation Sans, sans-serif" font-size="5.50" font-weight="bold" text-anchor="end" fill="#1a1a1a" stroke="#1a1a1a" stroke-width="0.2">100</text>
<path d="M409.90000000000003 136.10H412.3" stroke="#1a1a1a" stroke-width="0.7"/>
<text x="409.3" y="138.10" font-family="Liberation Sans, sans-serif" font-size="5.50" font-weight="bold" text-anchor="end" fill="#1a1a1a" stroke="#1a1a1a" stroke-width="0.2">150</text>
<path d="M412.30 197.8v1.8" stroke="#444" stroke-width="0.7"/>
<text x="412.30" y="205.50" font-family="Liberation Sans, sans-serif" font-size="5.50" font-weight="bold" text-anchor="middle" fill="#1a1a1a" stroke="#1a1a1a" stroke-width="0.2">0</text>
<path d="M429.70 197.8v1.8" stroke="#444" stroke-width="0.7"/>
<text x="429.70" y="205.50" font-family="Liberation Sans, sans-serif" font-size="5.50" font-weight="bold" text-anchor="middle" fill="#1a1a1a" stroke="#1a1a1a" stroke-width="0.2">10</text>
<path d="M447.10 197.8v1.8" stroke="#444" stroke-width="0.7"/>
<text x="447.10" y="205.50" font-family="Liberation Sans, sans-serif" font-size="5.50" font-weight="bold" text-anchor="middle" fill="#1a1a1a" stroke="#1a1a1a" stroke-width="0.2">20</text>
<path d="M464.50 197.8v1.8" stroke="#444" stroke-width="0.7"/>
<text x="464.50" y="205.50" font-family="Liberation Sans, sans-serif" font-size="5.50" font-weight="bold" text-anchor="middle" fill="#1a1a1a" stroke="#1a1a1a" stroke-width="0.2">30</text>
<path d="M481.90 197.8v1.8" stroke="#444" stroke-width="0.7"/>
<text x="481.90" y="205.50" font-family="Liberation Sans, sans-serif" font-size="5.50" font-weight="bold" text-anchor="middle" fill="#1a1a1a" stroke="#1a1a1a" stroke-width="0.2">40</text>
<path d="M499.30 197.8v1.8" stroke="#444" stroke-width="0.7"/>
<text x="499.30" y="205.50" font-family="Liberation Sans, sans-serif" font-size="5.50" font-weight="bold" text-anchor="middle" fill="#1a1a1a" stroke="#1a1a1a" stroke-width="0.2">50</text>
<text x="455.80" y="213.00" font-family="Liberation Sans, sans-serif" font-size="6.50" font-weight="bold" text-anchor="middle" fill="#1a1a1a" stroke="#1a1a1a" stroke-width="0.22">Days</text>
<text transform="translate(391.5,166.00) rotate(-90)" font-family="Liberation Sans, sans-serif" font-size="6.30" font-weight="bold" text-anchor="middle" fill="#1a1a1a" stroke="#1a1a1a" stroke-width="0.22" style="white-space:pre">Tumor Diameter  (mm)</text>
<text x="454" y="127.6" font-family="Liberation Sans, sans-serif" font-size="8.0" font-weight="bold" text-anchor="middle" fill="#111" stroke="#1a1a1a" stroke-width="0.14" style="white-space:pre">DTA-1</text>
<text x="506.5" y="137.0" font-family="Liberation Sans, sans-serif" font-size="7.90" font-weight="bold" text-anchor="middle" fill="#111" stroke="#1a1a1a" stroke-width="0.14">(14/15)</text>
<path d="M412.30 193.50H492.34" stroke="#1a1a1a" stroke-width="0.8"/>
<circle cx="412.30" cy="193.50" r="1.6" fill="#1a1a1a" stroke="#1a1a1a" stroke-width="0.5"/>
<circle cx="426.22" cy="193.50" r="1.7" fill="#1a1a1a" stroke="#1a1a1a" stroke-width="0.5"/>
<circle cx="431.44" cy="193.50" r="1.7" fill="#1a1a1a" stroke="#1a1a1a" stroke-width="0.5"/>
<circle cx="434.92" cy="193.50" r="1.7" fill="#1a1a1a" stroke="#1a1a1a" stroke-width="0.5"/>
<circle cx="443.62" cy="193.50" r="1.2" fill="#1a1a1a" stroke="#1a1a1a" stroke-width="0.5"/>
<circle cx="447.10" cy="193.50" r="1.4" fill="#1a1a1a" stroke="#1a1a1a" stroke-width="0.5"/>
<circle cx="450.58" cy="193.50" r="1.1" fill="#1a1a1a" stroke="#1a1a1a" stroke-width="0.5"/>
<circle cx="455.80" cy="193.50" r="1.0" fill="#1a1a1a" stroke="#1a1a1a" stroke-width="0.5"/>
<circle cx="459.28" cy="193.50" r="1.0" fill="#1a1a1a" stroke="#1a1a1a" stroke-width="0.5"/>
<circle cx="467.98" cy="193.50" r="0.7" fill="#1a1a1a" stroke="#1a1a1a" stroke-width="0.5"/>
<circle cx="471.46" cy="193.50" r="0.7" fill="#1a1a1a" stroke="#1a1a1a" stroke-width="0.5"/>
<circle cx="474.94" cy="193.50" r="0.7" fill="#1a1a1a" stroke="#1a1a1a" stroke-width="0.5"/>
<circle cx="480.16" cy="193.50" r="0.7" fill="#1a1a1a" stroke="#1a1a1a" stroke-width="0.5"/>
<circle cx="492.34" cy="193.50" r="0.8" fill="#1a1a1a" stroke="#1a1a1a" stroke-width="0.5"/>
<path d="M426.22 193.50L431.44 162.12L434.92 161.74L438.40 166.71L443.62 168.63L447.10 150.64" fill="none" stroke="#1a1a1a" stroke-width="0.72" stroke-linejoin="round"/>
<rect x="430.39" y="161.07" width="2.1" height="2.1" fill="#1a1a1a" stroke="#1a1a1a" stroke-width="0.4"/>
<rect x="433.87" y="160.69" width="2.1" height="2.1" fill="#1a1a1a" stroke="#1a1a1a" stroke-width="0.4"/>
<rect x="437.35" y="165.66" width="2.1" height="2.1" fill="#1a1a1a" stroke="#1a1a1a" stroke-width="0.4"/>
<rect x="442.57" y="167.58" width="2.1" height="2.1" fill="#1a1a1a" stroke="#1a1a1a" stroke-width="0.4"/>
<rect x="446.05" y="149.59" width="2.1" height="2.1" fill="#1a1a1a" stroke="#1a1a1a" stroke-width="0.4"/>
<path d="M426.22 193.50L431.44 166.71L434.92 166.71L443.62 170.54L447.10 164.80L450.58 155.23" fill="none" stroke="#1a1a1a" stroke-width="0.72" stroke-linejoin="round"/>
<path d="M430.23 165.75L432.65 165.75L431.44 167.92Z" fill="#1a1a1a" stroke="#1a1a1a" stroke-width="0.4"/>
<path d="M433.71 165.75L436.13 165.75L434.92 167.92Z" fill="#1a1a1a" stroke="#1a1a1a" stroke-width="0.4"/>
<path d="M442.41 169.57L444.83 169.57L443.62 171.75Z" fill="#1a1a1a" stroke="#1a1a1a" stroke-width="0.4"/>
<path d="M445.89 163.83L448.31 163.83L447.10 166.01Z" fill="#1a1a1a" stroke="#1a1a1a" stroke-width="0.4"/>
<path d="M449.37 154.27L451.79 154.27L450.58 156.44Z" fill="#1a1a1a" stroke="#1a1a1a" stroke-width="0.4"/>
<path d="M426.22 193.50L431.44 174.37L434.92 176.28L443.62 176.28L447.10 168.63L455.80 160.97L459.28 151.41L467.98 143.75" fill="none" stroke="#1a1a1a" stroke-width="0.72" stroke-linejoin="round"/>
<circle cx="431.44" cy="174.37" r="1.05" fill="#1a1a1a" stroke="#1a1a1a" stroke-width="0.5"/>
<circle cx="434.92" cy="176.28" r="1.05" fill="#1a1a1a" stroke="#1a1a1a" stroke-width="0.5"/>
<circle cx="443.62" cy="176.28" r="1.05" fill="#1a1a1a" stroke="#1a1a1a" stroke-width="0.5"/>
<circle cx="447.10" cy="168.63" r="1.05" fill="#1a1a1a" stroke="#1a1a1a" stroke-width="0.5"/>
<circle cx="455.80" cy="160.97" r="1.05" fill="#1a1a1a" stroke="#1a1a1a" stroke-width="0.5"/>
<circle cx="459.28" cy="151.41" r="1.05" fill="#1a1a1a" stroke="#1a1a1a" stroke-width="0.5"/>
<circle cx="467.98" cy="143.75" r="1.05" fill="#1a1a1a" stroke="#1a1a1a" stroke-width="0.5"/>
<path d="M426.22 193.50L431.44 178.19L434.92 177.43L443.62 178.19L447.10 178.19L450.58 174.37L455.80 162.89L459.28 159.06L467.98 145.67" fill="none" stroke="#1a1a1a" stroke-width="0.72" stroke-linejoin="round"/>
<path d="M430.23 179.16L432.65 179.16L431.44 176.99Z" fill="#1a1a1a" stroke="#1a1a1a" stroke-width="0.4"/>
<path d="M433.71 178.39L436.13 178.39L434.92 176.22Z" fill="#1a1a1a" stroke="#1a1a1a" stroke-width="0.4"/>
<path d="M442.41 179.16L444.83 179.16L443.62 176.99Z" fill="#1a1a1a" stroke="#1a1a1a" stroke-width="0.4"/>
<path d="M445.89 179.16L448.31 179.16L447.10 176.99Z" fill="#1a1a1a" stroke="#1a1a1a" stroke-width="0.4"/>
<path d="M449.37 175.33L451.79 175.33L450.58 173.16Z" fill="#1a1a1a" stroke="#1a1a1a" stroke-width="0.4"/>
<path d="M454.59 163.85L457.01 163.85L455.80 161.68Z" fill="#1a1a1a" stroke="#1a1a1a" stroke-width="0.4"/>
<path d="M458.07 160.03L460.49 160.03L459.28 157.85Z" fill="#1a1a1a" stroke="#1a1a1a" stroke-width="0.4"/>
<path d="M466.77 146.63L469.19 146.63L467.98 144.46Z" fill="#1a1a1a" stroke="#1a1a1a" stroke-width="0.4"/>
<path d="M426.22 193.50L431.44 182.02L434.92 180.11L443.62 178.19L447.10 176.28L455.80 174.37L459.28 172.45L467.98 153.32" fill="none" stroke="#1a1a1a" stroke-width="0.72" stroke-linejoin="round"/>
<rect x="430.39" y="180.97" width="2.1" height="2.1" fill="#fff" stroke="#1a1a1a" stroke-width="0.6"/>
<rect x="433.87" y="179.06" width="2.1" height="2.1" fill="#fff" stroke="#1a1a1a" stroke-width="0.6"/>
<rect x="442.57" y="177.14" width="2.1" height="2.1" fill="#fff" stroke="#1a1a1a" stroke-width="0.6"/>
<rect x="446.05" y="175.23" width="2.1" height="2.1" fill="#fff" stroke="#1a1a1a" stroke-width="0.6"/>
<rect x="454.75" y="173.32" width="2.1" height="2.1" fill="#fff" stroke="#1a1a1a" stroke-width="0.6"/>
<rect x="458.23" y="171.40" width="2.1" height="2.1" fill="#fff" stroke="#1a1a1a" stroke-width="0.6"/>
<rect x="466.93" y="152.27" width="2.1" height="2.1" fill="#fff" stroke="#1a1a1a" stroke-width="0.6"/>
<path d="M431.44 193.50L434.92 183.93L443.62 182.02L447.10 180.11L455.80 176.28L459.28 174.37L467.98 159.06L471.46 155.23" fill="none" stroke="#1a1a1a" stroke-width="0.72" stroke-linejoin="round"/>
<circle cx="434.92" cy="183.93" r="1.05" fill="#fff" stroke="#1a1a1a" stroke-width="0.7"/>
<circle cx="443.62" cy="182.02" r="1.05" fill="#fff" stroke="#1a1a1a" stroke-width="0.7"/>
<circle cx="447.10" cy="180.11" r="1.05" fill="#fff" stroke="#1a1a1a" stroke-width="0.7"/>
<circle cx="455.80" cy="176.28" r="1.05" fill="#fff" stroke="#1a1a1a" stroke-width="0.7"/>
<circle cx="459.28" cy="174.37" r="1.05" fill="#fff" stroke="#1a1a1a" stroke-width="0.7"/>
<circle cx="467.98" cy="159.06" r="1.05" fill="#fff" stroke="#1a1a1a" stroke-width="0.7"/>
<circle cx="471.46" cy="155.23" r="1.05" fill="#fff" stroke="#1a1a1a" stroke-width="0.7"/>
<path d="M431.44 193.50L434.92 172.45L443.62 176.28L447.10 170.54L455.80 159.06L459.28 157.15L467.98 153.32L471.46 154.09" fill="none" stroke="#1a1a1a" stroke-width="0.72" stroke-linejoin="round"/>
<circle cx="434.92" cy="172.45" r="1.05" fill="#1a1a1a" stroke="#1a1a1a" stroke-width="0.5"/>
<circle cx="443.62" cy="176.28" r="1.05" fill="#1a1a1a" stroke="#1a1a1a" stroke-width="0.5"/>
<circle cx="447.10" cy="170.54" r="1.05" fill="#1a1a1a" stroke="#1a1a1a" stroke-width="0.5"/>
<circle cx="455.80" cy="159.06" r="1.05" fill="#1a1a1a" stroke="#1a1a1a" stroke-width="0.5"/>
<circle cx="459.28" cy="157.15" r="1.05" fill="#1a1a1a" stroke="#1a1a1a" stroke-width="0.5"/>
<circle cx="467.98" cy="153.32" r="1.05" fill="#1a1a1a" stroke="#1a1a1a" stroke-width="0.5"/>
<circle cx="471.46" cy="154.09" r="1.05" fill="#1a1a1a" stroke="#1a1a1a" stroke-width="0.5"/>
<path d="M434.92 193.50L443.62 182.02L447.10 174.37L450.58 172.45L455.80 164.80L459.28 160.97L467.98 154.47" fill="none" stroke="#1a1a1a" stroke-width="0.72" stroke-linejoin="round"/>
<path d="M443.62 180.97L444.67 182.02L443.62 183.07L442.57 182.02Z" fill="#1a1a1a" stroke="#1a1a1a" stroke-width="0.4"/>
<path d="M447.10 173.32L448.15 174.37L447.10 175.42L446.05 174.37Z" fill="#1a1a1a" stroke="#1a1a1a" stroke-width="0.4"/>
<path d="M450.58 171.40L451.63 172.45L450.58 173.50L449.53 172.45Z" fill="#1a1a1a" stroke="#1a1a1a" stroke-width="0.4"/>
<path d="M455.80 163.75L456.85 164.80L455.80 165.85L454.75 164.80Z" fill="#1a1a1a" stroke="#1a1a1a" stroke-width="0.4"/>
<path d="M459.28 159.92L460.33 160.97L459.28 162.02L458.23 160.97Z" fill="#1a1a1a" stroke="#1a1a1a" stroke-width="0.4"/>
<path d="M467.98 153.42L469.03 154.47L467.98 155.52L466.93 154.47Z" fill="#1a1a1a" stroke="#1a1a1a" stroke-width="0.4"/>
<path d="M443.62 193.50L447.10 182.02L450.58 176.28L455.80 166.71L459.28 151.41" fill="none" stroke="#1a1a1a" stroke-width="0.72" stroke-linejoin="round"/>
<path d="M445.89 181.05L448.31 181.05L447.10 183.23Z" fill="#1a1a1a" stroke="#1a1a1a" stroke-width="0.4"/>
<path d="M449.37 175.31L451.79 175.31L450.58 177.49Z" fill="#1a1a1a" stroke="#1a1a1a" stroke-width="0.4"/>
<path d="M454.59 165.75L457.01 165.75L455.80 167.92Z" fill="#1a1a1a" stroke="#1a1a1a" stroke-width="0.4"/>
<path d="M458.07 150.44L460.49 150.44L459.28 152.61Z" fill="#1a1a1a" stroke="#1a1a1a" stroke-width="0.4"/>
<path d="M447.10 193.50L450.58 178.19L455.80 174.37L459.28 166.71L467.98 157.15L471.46 156.00" fill="none" stroke="#1a1a1a" stroke-width="0.72" stroke-linejoin="round"/>
<rect x="449.53" y="177.14" width="2.1" height="2.1" fill="#1a1a1a" stroke="#1a1a1a" stroke-width="0.4"/>
<rect x="454.75" y="173.32" width="2.1" height="2.1" fill="#1a1a1a" stroke="#1a1a1a" stroke-width="0.4"/>
<rect x="458.23" y="165.66" width="2.1" height="2.1" fill="#1a1a1a" stroke="#1a1a1a" stroke-width="0.4"/>
<rect x="466.93" y="156.10" width="2.1" height="2.1" fill="#1a1a1a" stroke="#1a1a1a" stroke-width="0.4"/>
<rect x="470.41" y="154.95" width="2.1" height="2.1" fill="#1a1a1a" stroke="#1a1a1a" stroke-width="0.4"/>
<path d="M426.22 193.50L431.44 170.54L434.92 169.77L443.62 167.48L447.10 159.83L450.58 155.23" fill="none" stroke="#1a1a1a" stroke-width="0.72" stroke-linejoin="round"/>
<circle cx="431.44" cy="170.54" r="1.05" fill="#1a1a1a" stroke="#1a1a1a" stroke-width="0.5"/>
<circle cx="434.92" cy="169.77" r="1.05" fill="#1a1a1a" stroke="#1a1a1a" stroke-width="0.5"/>
<circle cx="443.62" cy="167.48" r="1.05" fill="#1a1a1a" stroke="#1a1a1a" stroke-width="0.5"/>
<circle cx="447.10" cy="159.83" r="1.05" fill="#1a1a1a" stroke="#1a1a1a" stroke-width="0.5"/>
<circle cx="450.58" cy="155.23" r="1.05" fill="#1a1a1a" stroke="#1a1a1a" stroke-width="0.5"/>
<path d="M459.28 193.50L467.98 178.96L471.46 172.45L474.94 166.33L480.16 163.65L492.34 144.52" fill="none" stroke="#1a1a1a" stroke-width="0.72" stroke-linejoin="round"/>
<circle cx="467.98" cy="178.96" r="1.05" fill="#1a1a1a" stroke="#1a1a1a" stroke-width="0.5"/>
<circle cx="471.46" cy="172.45" r="1.05" fill="#1a1a1a" stroke="#1a1a1a" stroke-width="0.5"/>
<circle cx="474.94" cy="166.33" r="1.05" fill="#1a1a1a" stroke="#1a1a1a" stroke-width="0.5"/>
<circle cx="480.16" cy="163.65" r="1.05" fill="#1a1a1a" stroke="#1a1a1a" stroke-width="0.5"/>
<circle cx="492.34" cy="144.52" r="1.05" fill="#1a1a1a" stroke="#1a1a1a" stroke-width="0.5"/>
<path d="M459.28 193.50L467.98 182.02L471.46 178.19L474.94 172.84L483.64 168.63L492.34 151.41" fill="none" stroke="#1a1a1a" stroke-width="0.72" stroke-linejoin="round"/>
<path d="M466.77 181.05L469.19 181.05L467.98 183.23Z" fill="#1a1a1a" stroke="#1a1a1a" stroke-width="0.4"/>
<path d="M470.25 177.23L472.67 177.23L471.46 179.40Z" fill="#1a1a1a" stroke="#1a1a1a" stroke-width="0.4"/>
<path d="M473.73 171.87L476.15 171.87L474.94 174.04Z" fill="#1a1a1a" stroke="#1a1a1a" stroke-width="0.4"/>
<path d="M482.43 167.66L484.85 167.66L483.64 169.83Z" fill="#1a1a1a" stroke="#1a1a1a" stroke-width="0.4"/>
<path d="M491.13 150.44L493.55 150.44L492.34 152.61Z" fill="#1a1a1a" stroke="#1a1a1a" stroke-width="0.4"/>
<path d="M459.28 193.50L467.98 180.11L471.46 174.37L474.94 166.33L483.64 168.63" fill="none" stroke="#1a1a1a" stroke-width="0.72" stroke-linejoin="round"/>
<path d="M466.77 181.07L469.19 181.07L467.98 178.90Z" fill="#1a1a1a" stroke="#1a1a1a" stroke-width="0.4"/>
<path d="M470.25 175.33L472.67 175.33L471.46 173.16Z" fill="#1a1a1a" stroke="#1a1a1a" stroke-width="0.4"/>
<path d="M473.73 167.30L476.15 167.30L474.94 165.12Z" fill="#1a1a1a" stroke="#1a1a1a" stroke-width="0.4"/>
<path d="M482.43 169.59L484.85 169.59L483.64 167.42Z" fill="#1a1a1a" stroke="#1a1a1a" stroke-width="0.4"/>
<path d="M474.94 166.33L480.16 163.65L492.34 151.41" fill="none" stroke="#1a1a1a" stroke-width="0.72" stroke-linejoin="round"/>
<path d="M480.16 162.60L481.21 163.65L480.16 164.70L479.11 163.65Z" fill="#1a1a1a" stroke="#1a1a1a" stroke-width="0.4"/>
<path d="M492.34 150.36L493.39 151.41L492.34 152.46L491.29 151.41Z" fill="#1a1a1a" stroke="#1a1a1a" stroke-width="0.4"/>
<path d="M117.45 237.90V299.6" stroke="#1a1a1a" stroke-width="0.8" fill="none"/>
<path d="M117.05 299.6H204.85" stroke="#444" stroke-width="0.7" fill="none"/>
<path d="M115.55 294.90H117.45" stroke="#1a1a1a" stroke-width="0.7"/>
<text x="115.05" y="296.90" font-family="Liberation Sans, sans-serif" font-size="5.67" font-weight="bold" text-anchor="end" fill="#1a1a1a" stroke="#1a1a1a" stroke-width="0.2">0</text>
<path d="M115.55 276.00H117.45" stroke="#1a1a1a" stroke-width="0.7"/>
<text x="115.05" y="278.00" font-family="Liberation Sans, sans-serif" font-size="5.67" font-weight="bold" text-anchor="end" fill="#1a1a1a" stroke="#1a1a1a" stroke-width="0.2">50</text>
<path d="M115.55 257.10H117.45" stroke="#1a1a1a" stroke-width="0.7"/>
<text x="115.05" y="259.10" font-family="Liberation Sans, sans-serif" font-size="5.67" font-weight="bold" text-anchor="end" fill="#1a1a1a" stroke="#1a1a1a" stroke-width="0.2">100</text>
<path d="M115.55 238.20H117.45" stroke="#1a1a1a" stroke-width="0.7"/>
<text x="115.05" y="240.20" font-family="Liberation Sans, sans-serif" font-size="5.67" font-weight="bold" text-anchor="end" fill="#1a1a1a" stroke="#1a1a1a" stroke-width="0.2">150</text>
<path d="M117.45 299.6v1.8" stroke="#444" stroke-width="0.7"/>
<text x="117.45" y="306.40" font-family="Liberation Sans, sans-serif" font-size="5.67" font-weight="bold" text-anchor="middle" fill="#1a1a1a" stroke="#1a1a1a" stroke-width="0.2">0</text>
<path d="M134.85 299.6v1.8" stroke="#444" stroke-width="0.7"/>
<text x="134.85" y="306.40" font-family="Liberation Sans, sans-serif" font-size="5.67" font-weight="bold" text-anchor="middle" fill="#1a1a1a" stroke="#1a1a1a" stroke-width="0.2">10</text>
<path d="M152.25 299.6v1.8" stroke="#444" stroke-width="0.7"/>
<text x="152.25" y="306.40" font-family="Liberation Sans, sans-serif" font-size="5.67" font-weight="bold" text-anchor="middle" fill="#1a1a1a" stroke="#1a1a1a" stroke-width="0.2">20</text>
<path d="M169.65 299.6v1.8" stroke="#444" stroke-width="0.7"/>
<text x="169.65" y="306.40" font-family="Liberation Sans, sans-serif" font-size="5.67" font-weight="bold" text-anchor="middle" fill="#1a1a1a" stroke="#1a1a1a" stroke-width="0.2">30</text>
<path d="M187.05 299.6v1.8" stroke="#444" stroke-width="0.7"/>
<text x="187.05" y="306.40" font-family="Liberation Sans, sans-serif" font-size="5.67" font-weight="bold" text-anchor="middle" fill="#1a1a1a" stroke="#1a1a1a" stroke-width="0.2">40</text>
<path d="M204.45 299.6v1.8" stroke="#444" stroke-width="0.7"/>
<text x="204.45" y="306.40" font-family="Liberation Sans, sans-serif" font-size="5.67" font-weight="bold" text-anchor="middle" fill="#1a1a1a" stroke="#1a1a1a" stroke-width="0.2">50</text>
<text x="160.95" y="313.40" font-family="Liberation Sans, sans-serif" font-size="6.50" font-weight="bold" text-anchor="middle" fill="#1a1a1a" stroke="#1a1a1a" stroke-width="0.22">Days</text>
<text transform="translate(97.3,267.75) rotate(-90)" font-family="Liberation Sans, sans-serif" font-size="6.49" font-weight="bold" text-anchor="middle" fill="#1a1a1a" stroke="#1a1a1a" stroke-width="0.22" style="white-space:pre">Tumor Diameter  (mm)</text>
<text x="161.55" y="230.5" font-family="Liberation Sans, sans-serif" font-size="8.36" font-weight="bold" text-anchor="middle" fill="#111" stroke="#1a1a1a" stroke-width="0.14" style="white-space:pre">TA99 + DTA-1</text>
<text x="205.1" y="248.2" font-family="Liberation Sans, sans-serif" font-size="8.14" font-weight="bold" text-anchor="middle" fill="#111" stroke="#1a1a1a" stroke-width="0.14">(8/15)</text>
<path d="M117.45 294.90H197.49" stroke="#1a1a1a" stroke-width="0.8"/>
<rect x="115.95" y="293.40" width="3.0" height="3.0" rx="0.83" fill="#1a1a1a" stroke="#1a1a1a" stroke-width="0.4"/>
<rect x="129.87" y="293.40" width="3.0" height="3.0" rx="0.83" fill="#1a1a1a" stroke="#1a1a1a" stroke-width="0.4"/>
<rect x="135.09" y="293.40" width="3.0" height="3.0" rx="0.83" fill="#1a1a1a" stroke="#1a1a1a" stroke-width="0.4"/>
<rect x="138.57" y="293.40" width="3.0" height="3.0" rx="0.83" fill="#1a1a1a" stroke="#1a1a1a" stroke-width="0.4"/>
<rect x="147.27" y="293.40" width="3.0" height="3.0" rx="0.83" fill="#1a1a1a" stroke="#1a1a1a" stroke-width="0.4"/>
<rect x="150.75" y="293.40" width="3.0" height="3.0" rx="0.83" fill="#1a1a1a" stroke="#1a1a1a" stroke-width="0.4"/>
<rect x="154.23" y="293.40" width="3.0" height="3.0" rx="0.83" fill="#1a1a1a" stroke="#1a1a1a" stroke-width="0.4"/>
<rect x="159.45" y="293.40" width="3.0" height="3.0" rx="0.83" fill="#1a1a1a" stroke="#1a1a1a" stroke-width="0.4"/>
<rect x="162.93" y="293.40" width="3.0" height="3.0" rx="0.83" fill="#1a1a1a" stroke="#1a1a1a" stroke-width="0.4"/>
<rect x="171.63" y="293.40" width="3.0" height="3.0" rx="0.83" fill="#1a1a1a" stroke="#1a1a1a" stroke-width="0.4"/>
<rect x="175.11" y="293.40" width="3.0" height="3.0" rx="0.83" fill="#1a1a1a" stroke="#1a1a1a" stroke-width="0.4"/>
<rect x="178.59" y="293.40" width="3.0" height="3.0" rx="0.83" fill="#1a1a1a" stroke="#1a1a1a" stroke-width="0.4"/>
<rect x="183.81" y="293.40" width="3.0" height="3.0" rx="0.83" fill="#1a1a1a" stroke="#1a1a1a" stroke-width="0.4"/>
<rect x="195.99" y="293.40" width="3.0" height="3.0" rx="0.83" fill="#1a1a1a" stroke="#1a1a1a" stroke-width="0.4"/>
<path d="M131.37 294.90L136.59 260.88L140.07 265.42L148.77 267.68L152.25 262.77L155.73 249.92" fill="none" stroke="#1a1a1a" stroke-width="0.9" stroke-linejoin="round"/>
<circle cx="136.59" cy="260.88" r="1.2" fill="#1a1a1a" stroke="#1a1a1a" stroke-width="0.5"/>
<circle cx="140.07" cy="265.42" r="1.2" fill="#1a1a1a" stroke="#1a1a1a" stroke-width="0.5"/>
<circle cx="148.77" cy="267.68" r="1.2" fill="#1a1a1a" stroke="#1a1a1a" stroke-width="0.5"/>
<circle cx="152.25" cy="262.77" r="1.2" fill="#1a1a1a" stroke="#1a1a1a" stroke-width="0.5"/>
<circle cx="155.73" cy="249.92" r="1.2" fill="#1a1a1a" stroke="#1a1a1a" stroke-width="0.5"/>
<path d="M131.37 294.90L136.59 267.68L140.07 269.20L148.77 270.33L152.25 264.66L155.73 253.32" fill="none" stroke="#1a1a1a" stroke-width="0.9" stroke-linejoin="round"/>
<path d="M135.21 268.79L137.97 268.79L136.59 266.30Z" fill="#1a1a1a" stroke="#1a1a1a" stroke-width="0.4"/>
<path d="M138.69 270.30L141.45 270.30L140.07 267.82Z" fill="#1a1a1a" stroke="#1a1a1a" stroke-width="0.4"/>
<path d="M147.39 271.43L150.15 271.43L148.77 268.95Z" fill="#1a1a1a" stroke="#1a1a1a" stroke-width="0.4"/>
<path d="M150.87 265.76L153.63 265.76L152.25 263.28Z" fill="#1a1a1a" stroke="#1a1a1a" stroke-width="0.4"/>
<path d="M154.35 254.42L157.11 254.42L155.73 251.94Z" fill="#1a1a1a" stroke="#1a1a1a" stroke-width="0.4"/>
<path d="M131.37 294.90L136.59 274.11L140.07 272.22L148.77 265.42L152.25 262.77L155.73 262.77L160.95 261.64" fill="none" stroke="#1a1a1a" stroke-width="0.9" stroke-linejoin="round"/>
<path d="M135.21 273.01L137.97 273.01L136.59 275.49Z" fill="#1a1a1a" stroke="#1a1a1a" stroke-width="0.4"/>
<path d="M138.69 271.12L141.45 271.12L140.07 273.60Z" fill="#1a1a1a" stroke="#1a1a1a" stroke-width="0.4"/>
<path d="M147.39 264.31L150.15 264.31L148.77 266.80Z" fill="#1a1a1a" stroke="#1a1a1a" stroke-width="0.4"/>
<path d="M150.87 261.67L153.63 261.67L152.25 264.15Z" fill="#1a1a1a" stroke="#1a1a1a" stroke-width="0.4"/>
<path d="M154.35 261.67L157.11 261.67L155.73 264.15Z" fill="#1a1a1a" stroke="#1a1a1a" stroke-width="0.4"/>
<path d="M159.57 260.53L162.33 260.53L160.95 263.02Z" fill="#1a1a1a" stroke="#1a1a1a" stroke-width="0.4"/>
<path d="M131.37 294.90L136.59 277.89L140.07 276.00L148.77 274.11L152.25 272.22L155.73 272.22" fill="none" stroke="#1a1a1a" stroke-width="0.9" stroke-linejoin="round"/>
<path d="M136.59 276.69L137.79 277.89L136.59 279.09L135.39 277.89Z" fill="#1a1a1a" stroke="#1a1a1a" stroke-width="0.4"/>
<path d="M140.07 274.80L141.27 276.00L140.07 277.20L138.87 276.00Z" fill="#1a1a1a" stroke="#1a1a1a" stroke-width="0.4"/>
<path d="M148.77 272.91L149.97 274.11L148.77 275.31L147.57 274.11Z" fill="#1a1a1a" stroke="#1a1a1a" stroke-width="0.4"/>
<path d="M152.25 271.02L153.45 272.22L152.25 273.42L151.05 272.22Z" fill="#1a1a1a" stroke="#1a1a1a" stroke-width="0.4"/>
<path d="M155.73 271.02L156.93 272.22L155.73 273.42L154.53 272.22Z" fill="#1a1a1a" stroke="#1a1a1a" stroke-width="0.4"/>
<path d="M131.37 294.90L136.59 280.54L140.07 281.67L148.77 280.54L152.25 279.02L155.73 277.89L160.95 268.44L164.43 272.22L173.13 265.42L176.61 260.88L180.09 247.27" fill="none" stroke="#1a1a1a" stroke-width="0.9" stroke-linejoin="round"/>
<circle cx="136.59" cy="280.54" r="1.2" fill="#fff" stroke="#1a1a1a" stroke-width="0.7"/>
<circle cx="140.07" cy="281.67" r="1.2" fill="#fff" stroke="#1a1a1a" stroke-width="0.7"/>
<circle cx="148.77" cy="280.54" r="1.2" fill="#fff" stroke="#1a1a1a" stroke-width="0.7"/>
<circle cx="152.25" cy="279.02" r="1.2" fill="#fff" stroke="#1a1a1a" stroke-width="0.7"/>
<circle cx="155.73" cy="277.89" r="1.2" fill="#fff" stroke="#1a1a1a" stroke-width="0.7"/>
<circle cx="160.95" cy="268.44" r="1.2" fill="#fff" stroke="#1a1a1a" stroke-width="0.7"/>
<circle cx="164.43" cy="272.22" r="1.2" fill="#fff" stroke="#1a1a1a" stroke-width="0.7"/>
<circle cx="173.13" cy="265.42" r="1.2" fill="#fff" stroke="#1a1a1a" stroke-width="0.7"/>
<circle cx="176.61" cy="260.88" r="1.2" fill="#fff" stroke="#1a1a1a" stroke-width="0.7"/>
<circle cx="180.09" cy="247.27" r="1.2" fill="#fff" stroke="#1a1a1a" stroke-width="0.7"/>
<path d="M155.73 294.90L160.95 279.02L164.43 272.22L173.13 258.99L176.61 259.75L180.09 258.99" fill="none" stroke="#1a1a1a" stroke-width="0.9" stroke-linejoin="round"/>
<path d="M159.57 280.13L162.33 280.13L160.95 277.64Z" fill="#1a1a1a" stroke="#1a1a1a" stroke-width="0.4"/>
<path d="M163.05 273.32L165.81 273.32L164.43 270.84Z" fill="#1a1a1a" stroke="#1a1a1a" stroke-width="0.4"/>
<path d="M171.75 260.09L174.51 260.09L173.13 257.61Z" fill="#1a1a1a" stroke="#1a1a1a" stroke-width="0.4"/>
<path d="M175.23 260.85L177.99 260.85L176.61 258.37Z" fill="#1a1a1a" stroke="#1a1a1a" stroke-width="0.4"/>
<path d="M178.71 260.09L181.47 260.09L180.09 257.61Z" fill="#1a1a1a" stroke="#1a1a1a" stroke-width="0.4"/>
<path d="M160.95 294.90L164.43 277.89L173.13 266.55L176.61 262.77" fill="none" stroke="#1a1a1a" stroke-width="0.9" stroke-linejoin="round"/>
<circle cx="164.43" cy="277.89" r="1.2" fill="#1a1a1a" stroke="#1a1a1a" stroke-width="0.5"/>
<circle cx="173.13" cy="266.55" r="1.2" fill="#1a1a1a" stroke="#1a1a1a" stroke-width="0.5"/>
<circle cx="176.61" cy="262.77" r="1.2" fill="#1a1a1a" stroke="#1a1a1a" stroke-width="0.5"/>
<path d="M185.31 294.90L197.49 275.24" fill="none" stroke="#1a1a1a" stroke-width="0.9" stroke-linejoin="round"/>
<path d="M196.11 274.14L198.87 274.14L197.49 276.62Z" fill="#1a1a1a" stroke="#1a1a1a" stroke-width="0.4"/>
<path d="M334.5 237.90V299.8" stroke="#1a1a1a" stroke-width="0.8" fill="none"/>
<path d="M334.1 299.8H420.90" stroke="#444" stroke-width="0.7" fill="none"/>
<path d="M333.1 294.90H334.5" stroke="#1a1a1a" stroke-width="0.7"/>
<text x="332.9" y="296.90" font-family="Liberation Sans, sans-serif" font-size="5.67" font-weight="bold" text-anchor="end" fill="#1a1a1a" stroke="#1a1a1a" stroke-width="0.2">0</text>
<path d="M333.1 276.00H334.5" stroke="#1a1a1a" stroke-width="0.7"/>
<text x="332.9" y="278.00" font-family="Liberation Sans, sans-serif" font-size="5.67" font-weight="bold" text-anchor="end" fill="#1a1a1a" stroke="#1a1a1a" stroke-width="0.2">50</text>
<path d="M333.1 257.10H334.5" stroke="#1a1a1a" stroke-width="0.7"/>
<text x="332.9" y="259.10" font-family="Liberation Sans, sans-serif" font-size="5.67" font-weight="bold" text-anchor="end" fill="#1a1a1a" stroke="#1a1a1a" stroke-width="0.2">100</text>
<path d="M333.1 238.20H334.5" stroke="#1a1a1a" stroke-width="0.7"/>
<text x="332.9" y="240.20" font-family="Liberation Sans, sans-serif" font-size="5.67" font-weight="bold" text-anchor="end" fill="#1a1a1a" stroke="#1a1a1a" stroke-width="0.2">150</text>
<path d="M334.50 299.8v1.8" stroke="#444" stroke-width="0.7"/>
<text x="334.50" y="306.40" font-family="Liberation Sans, sans-serif" font-size="5.67" font-weight="bold" text-anchor="middle" fill="#1a1a1a" stroke="#1a1a1a" stroke-width="0.2">0</text>
<path d="M351.70 299.8v1.8" stroke="#444" stroke-width="0.7"/>
<text x="351.70" y="306.40" font-family="Liberation Sans, sans-serif" font-size="5.67" font-weight="bold" text-anchor="middle" fill="#1a1a1a" stroke="#1a1a1a" stroke-width="0.2">10</text>
<path d="M368.90 299.8v1.8" stroke="#444" stroke-width="0.7"/>
<text x="368.90" y="306.40" font-family="Liberation Sans, sans-serif" font-size="5.67" font-weight="bold" text-anchor="middle" fill="#1a1a1a" stroke="#1a1a1a" stroke-width="0.2">20</text>
<path d="M386.10 299.8v1.8" stroke="#444" stroke-width="0.7"/>
<text x="386.10" y="306.40" font-family="Liberation Sans, sans-serif" font-size="5.67" font-weight="bold" text-anchor="middle" fill="#1a1a1a" stroke="#1a1a1a" stroke-width="0.2">30</text>
<path d="M403.30 299.8v1.8" stroke="#444" stroke-width="0.7"/>
<text x="403.30" y="306.40" font-family="Liberation Sans, sans-serif" font-size="5.67" font-weight="bold" text-anchor="middle" fill="#1a1a1a" stroke="#1a1a1a" stroke-width="0.2">40</text>
<path d="M420.50 299.8v1.8" stroke="#444" stroke-width="0.7"/>
<text x="420.50" y="306.40" font-family="Liberation Sans, sans-serif" font-size="5.67" font-weight="bold" text-anchor="middle" fill="#1a1a1a" stroke="#1a1a1a" stroke-width="0.2">50</text>
<text x="377.50" y="313.40" font-family="Liberation Sans, sans-serif" font-size="6.00" font-weight="bold" text-anchor="middle" fill="#1a1a1a" stroke="#1a1a1a" stroke-width="0.22">Days</text>
<text transform="translate(316.2,267.75) rotate(-90)" font-family="Liberation Sans, sans-serif" font-size="6.49" font-weight="bold" text-anchor="middle" fill="#1a1a1a" stroke="#1a1a1a" stroke-width="0.22" style="white-space:pre">Tumor Diameter  (mm)</text>
<text x="377.4" y="231.0" font-family="Liberation Sans, sans-serif" font-size="7.95" font-weight="bold" text-anchor="middle" fill="#111" stroke="#1a1a1a" stroke-width="0.14" style="white-space:pre">TA99 +  DTA-1 + PAF inhibition</text>
<text x="420.2" y="248.4" font-family="Liberation Sans, sans-serif" font-size="8.14" font-weight="bold" text-anchor="middle" fill="#111" stroke="#1a1a1a" stroke-width="0.14">(10/15)</text>
<path d="M334.50 294.90H413.62" stroke="#1a1a1a" stroke-width="0.8"/>
<circle cx="334.50" cy="294.90" r="1.65" fill="#1a1a1a" stroke="#1a1a1a" stroke-width="0.5"/>
<circle cx="348.26" cy="294.90" r="1.65" fill="#1a1a1a" stroke="#1a1a1a" stroke-width="0.5"/>
<circle cx="353.42" cy="294.90" r="1.65" fill="#1a1a1a" stroke="#1a1a1a" stroke-width="0.5"/>
<circle cx="356.86" cy="294.90" r="1.65" fill="#1a1a1a" stroke="#1a1a1a" stroke-width="0.5"/>
<circle cx="365.46" cy="294.90" r="1.65" fill="#1a1a1a" stroke="#1a1a1a" stroke-width="0.5"/>
<circle cx="368.90" cy="294.90" r="1.65" fill="#1a1a1a" stroke="#1a1a1a" stroke-width="0.5"/>
<circle cx="372.34" cy="294.90" r="1.65" fill="#1a1a1a" stroke="#1a1a1a" stroke-width="0.5"/>
<circle cx="377.50" cy="294.90" r="1.65" fill="#1a1a1a" stroke="#1a1a1a" stroke-width="0.5"/>
<circle cx="380.94" cy="294.90" r="1.65" fill="#1a1a1a" stroke="#1a1a1a" stroke-width="0.5"/>
<circle cx="389.54" cy="294.90" r="1.65" fill="#1a1a1a" stroke="#1a1a1a" stroke-width="0.5"/>
<circle cx="392.98" cy="294.90" r="1.65" fill="#1a1a1a" stroke="#1a1a1a" stroke-width="0.5"/>
<circle cx="396.42" cy="294.90" r="1.65" fill="#1a1a1a" stroke="#1a1a1a" stroke-width="0.5"/>
<circle cx="401.58" cy="294.90" r="1.65" fill="#1a1a1a" stroke="#1a1a1a" stroke-width="0.5"/>
<circle cx="413.62" cy="294.90" r="1.65" fill="#1a1a1a" stroke="#1a1a1a" stroke-width="0.5"/>
<path d="M348.26 294.90L353.42 270.71L356.86 267.31L365.46 265.79L368.90 261.64L372.34 254.83L377.50 251.43L380.94 249.16" fill="none" stroke="#1a1a1a" stroke-width="0.9" stroke-linejoin="round"/>
<circle cx="353.42" cy="270.71" r="1.2" fill="#1a1a1a" stroke="#1a1a1a" stroke-width="0.5"/>
<circle cx="356.86" cy="267.31" r="1.2" fill="#1a1a1a" stroke="#1a1a1a" stroke-width="0.5"/>
<circle cx="365.46" cy="265.79" r="1.2" fill="#1a1a1a" stroke="#1a1a1a" stroke-width="0.5"/>
<circle cx="368.90" cy="261.64" r="1.2" fill="#1a1a1a" stroke="#1a1a1a" stroke-width="0.5"/>
<circle cx="372.34" cy="254.83" r="1.2" fill="#1a1a1a" stroke="#1a1a1a" stroke-width="0.5"/>
<circle cx="377.50" cy="251.43" r="1.2" fill="#1a1a1a" stroke="#1a1a1a" stroke-width="0.5"/>
<circle cx="380.94" cy="249.16" r="1.2" fill="#1a1a1a" stroke="#1a1a1a" stroke-width="0.5"/>
<path d="M348.26 294.90L353.42 271.46L356.86 267.68L365.46 266.17L368.90 262.39L372.34 257.10L377.50 254.83L380.94 254.08" fill="none" stroke="#1a1a1a" stroke-width="0.9" stroke-linejoin="round"/>
<rect x="352.22" y="270.26" width="2.4" height="2.4" fill="#1a1a1a" stroke="#1a1a1a" stroke-width="0.4"/>
<rect x="355.66" y="266.48" width="2.4" height="2.4" fill="#1a1a1a" stroke="#1a1a1a" stroke-width="0.4"/>
<rect x="364.26" y="264.97" width="2.4" height="2.4" fill="#1a1a1a" stroke="#1a1a1a" stroke-width="0.4"/>
<rect x="367.70" y="261.19" width="2.4" height="2.4" fill="#1a1a1a" stroke="#1a1a1a" stroke-width="0.4"/>
<rect x="371.14" y="255.90" width="2.4" height="2.4" fill="#1a1a1a" stroke="#1a1a1a" stroke-width="0.4"/>
<rect x="376.30" y="253.63" width="2.4" height="2.4" fill="#1a1a1a" stroke="#1a1a1a" stroke-width="0.4"/>
<rect x="379.74" y="252.88" width="2.4" height="2.4" fill="#1a1a1a" stroke="#1a1a1a" stroke-width="0.4"/>
<path d="M348.26 294.90L353.42 278.65L356.86 278.65L365.46 276.76L368.90 271.84L372.34 262.77L377.50 257.10L380.94 255.97" fill="none" stroke="#1a1a1a" stroke-width="0.9" stroke-linejoin="round"/>
<path d="M352.04 279.75L354.80 279.75L353.42 277.27Z" fill="#1a1a1a" stroke="#1a1a1a" stroke-width="0.4"/>
<path d="M355.48 279.75L358.24 279.75L356.86 277.27Z" fill="#1a1a1a" stroke="#1a1a1a" stroke-width="0.4"/>
<path d="M364.08 277.86L366.84 277.86L365.46 275.38Z" fill="#1a1a1a" stroke="#1a1a1a" stroke-width="0.4"/>
<path d="M367.52 272.95L370.28 272.95L368.90 270.46Z" fill="#1a1a1a" stroke="#1a1a1a" stroke-width="0.4"/>
<path d="M370.96 263.87L373.72 263.87L372.34 261.39Z" fill="#1a1a1a" stroke="#1a1a1a" stroke-width="0.4"/>
<path d="M376.12 258.20L378.88 258.20L377.50 255.72Z" fill="#1a1a1a" stroke="#1a1a1a" stroke-width="0.4"/>
<path d="M379.56 257.07L382.32 257.07L380.94 254.59Z" fill="#1a1a1a" stroke="#1a1a1a" stroke-width="0.4"/>
<path d="M348.26 294.90L353.42 283.94L356.86 283.94L365.46 283.56L368.90 282.80L372.34 281.67L377.50 264.66L380.94 258.99" fill="none" stroke="#1a1a1a" stroke-width="0.9" stroke-linejoin="round"/>
<path d="M352.04 282.83L354.80 282.83L353.42 285.32Z" fill="#1a1a1a" stroke="#1a1a1a" stroke-width="0.4"/>
<path d="M355.48 282.83L358.24 282.83L356.86 285.32Z" fill="#1a1a1a" stroke="#1a1a1a" stroke-width="0.4"/>
<path d="M364.08 282.46L366.84 282.46L365.46 284.94Z" fill="#1a1a1a" stroke="#1a1a1a" stroke-width="0.4"/>
<path d="M367.52 281.70L370.28 281.70L368.90 284.18Z" fill="#1a1a1a" stroke="#1a1a1a" stroke-width="0.4"/>
<path d="M370.96 280.57L373.72 280.57L372.34 283.05Z" fill="#1a1a1a" stroke="#1a1a1a" stroke-width="0.4"/>
<path d="M376.12 263.56L378.88 263.56L377.50 266.04Z" fill="#1a1a1a" stroke="#1a1a1a" stroke-width="0.4"/>
<path d="M379.56 257.89L382.32 257.89L380.94 260.37Z" fill="#1a1a1a" stroke="#1a1a1a" stroke-width="0.4"/>
<path d="M353.42 294.90L356.86 279.02L365.46 277.13L368.90 272.22L372.34 263.53L377.50 258.23" fill="none" stroke="#1a1a1a" stroke-width="0.9" stroke-linejoin="round"/>
<path d="M356.86 277.82L358.06 279.02L356.86 280.22L355.66 279.02Z" fill="#1a1a1a" stroke="#1a1a1a" stroke-width="0.4"/>
<path d="M365.46 275.93L366.66 277.13L365.46 278.33L364.26 277.13Z" fill="#1a1a1a" stroke="#1a1a1a" stroke-width="0.4"/>
<path d="M368.90 271.02L370.10 272.22L368.90 273.42L367.70 272.22Z" fill="#1a1a1a" stroke="#1a1a1a" stroke-width="0.4"/>
<path d="M372.34 262.33L373.54 263.53L372.34 264.73L371.14 263.53Z" fill="#1a1a1a" stroke="#1a1a1a" stroke-width="0.4"/>
<path d="M377.50 257.03L378.70 258.23L377.50 259.43L376.30 258.23Z" fill="#1a1a1a" stroke="#1a1a1a" stroke-width="0.4"/>
<path d="M353.42 294.90L356.86 283.94L365.46 283.56L368.90 283.18L372.34 282.05L377.50 262.77L380.94 257.10" fill="none" stroke="#1a1a1a" stroke-width="0.9" stroke-linejoin="round"/>
<circle cx="356.86" cy="283.94" r="1.2" fill="#1a1a1a" stroke="#1a1a1a" stroke-width="0.5"/>
<circle cx="365.46" cy="283.56" r="1.2" fill="#1a1a1a" stroke="#1a1a1a" stroke-width="0.5"/>
<circle cx="368.90" cy="283.18" r="1.2" fill="#1a1a1a" stroke="#1a1a1a" stroke-width="0.5"/>
<circle cx="372.34" cy="282.05" r="1.2" fill="#1a1a1a" stroke="#1a1a1a" stroke-width="0.5"/>
<circle cx="377.50" cy="262.77" r="1.2" fill="#1a1a1a" stroke="#1a1a1a" stroke-width="0.5"/>
<circle cx="380.94" cy="257.10" r="1.2" fill="#1a1a1a" stroke="#1a1a1a" stroke-width="0.5"/>
<path d="M356.86 294.90L365.46 283.94L368.90 283.18L372.34 273.73L377.50 261.64L380.94 255.59" fill="none" stroke="#1a1a1a" stroke-width="0.9" stroke-linejoin="round"/>
<rect x="364.26" y="282.74" width="2.4" height="2.4" fill="#1a1a1a" stroke="#1a1a1a" stroke-width="0.4"/>
<rect x="367.70" y="281.98" width="2.4" height="2.4" fill="#1a1a1a" stroke="#1a1a1a" stroke-width="0.4"/>
<rect x="371.14" y="272.53" width="2.4" height="2.4" fill="#1a1a1a" stroke="#1a1a1a" stroke-width="0.4"/>
<rect x="376.30" y="260.44" width="2.4" height="2.4" fill="#1a1a1a" stroke="#1a1a1a" stroke-width="0.4"/>
<rect x="379.74" y="254.39" width="2.4" height="2.4" fill="#1a1a1a" stroke="#1a1a1a" stroke-width="0.4"/>
<path d="M368.90 294.90L372.34 273.73L377.50 260.88L380.94 257.10" fill="none" stroke="#1a1a1a" stroke-width="0.9" stroke-linejoin="round"/>
<circle cx="372.34" cy="273.73" r="1.2" fill="#1a1a1a" stroke="#1a1a1a" stroke-width="0.5"/>
<circle cx="377.50" cy="260.88" r="1.2" fill="#1a1a1a" stroke="#1a1a1a" stroke-width="0.5"/>
<circle cx="380.94" cy="257.10" r="1.2" fill="#1a1a1a" stroke="#1a1a1a" stroke-width="0.5"/>
<path d="M368.90 294.90L372.34 283.56L377.50 276.00L380.94 269.57L389.54 257.10L392.98 257.86" fill="none" stroke="#1a1a1a" stroke-width="0.9" stroke-linejoin="round"/>
<path d="M370.96 284.66L373.72 284.66L372.34 282.18Z" fill="#1a1a1a" stroke="#1a1a1a" stroke-width="0.4"/>
<path d="M376.12 277.10L378.88 277.10L377.50 274.62Z" fill="#1a1a1a" stroke="#1a1a1a" stroke-width="0.4"/>
<path d="M379.56 270.68L382.32 270.68L380.94 268.19Z" fill="#1a1a1a" stroke="#1a1a1a" stroke-width="0.4"/>
<path d="M388.16 258.20L390.92 258.20L389.54 255.72Z" fill="#1a1a1a" stroke="#1a1a1a" stroke-width="0.4"/>
<path d="M391.60 258.96L394.36 258.96L392.98 256.48Z" fill="#1a1a1a" stroke="#1a1a1a" stroke-width="0.4"/>
<path d="M377.50 294.90L380.94 281.67L389.54 266.55L392.98 259.75L396.42 254.45" fill="none" stroke="#1a1a1a" stroke-width="0.9" stroke-linejoin="round"/>
<path d="M379.56 280.57L382.32 280.57L380.94 283.05Z" fill="#1a1a1a" stroke="#1a1a1a" stroke-width="0.4"/>
<path d="M388.16 265.45L390.92 265.45L389.54 267.93Z" fill="#1a1a1a" stroke="#1a1a1a" stroke-width="0.4"/>
<path d="M391.60 258.64L394.36 258.64L392.98 261.13Z" fill="#1a1a1a" stroke="#1a1a1a" stroke-width="0.4"/>
<path d="M395.04 253.35L397.80 253.35L396.42 255.83Z" fill="#1a1a1a" stroke="#1a1a1a" stroke-width="0.4"/>
<path d="M362.40 319.6V301.6" stroke="#c8242b" stroke-width="0.9" fill="none"/>
<path d="M360.00 305.2L362.40 301.2L364.80 305.2" stroke="#c8242b" stroke-width="0.9" fill="none"/>
<text x="360.8" y="332.1" font-family="Liberation Sans, sans-serif" font-size="9.6" font-weight="bold" text-anchor="middle" fill="#111">Day 16</text>
<text x="360.6" y="343.0" font-family="Liberation Sans, sans-serif" font-size="9.6" font-weight="bold" text-anchor="middle" fill="#111">PAF inhibitor</text>
</svg>
</body></html>
